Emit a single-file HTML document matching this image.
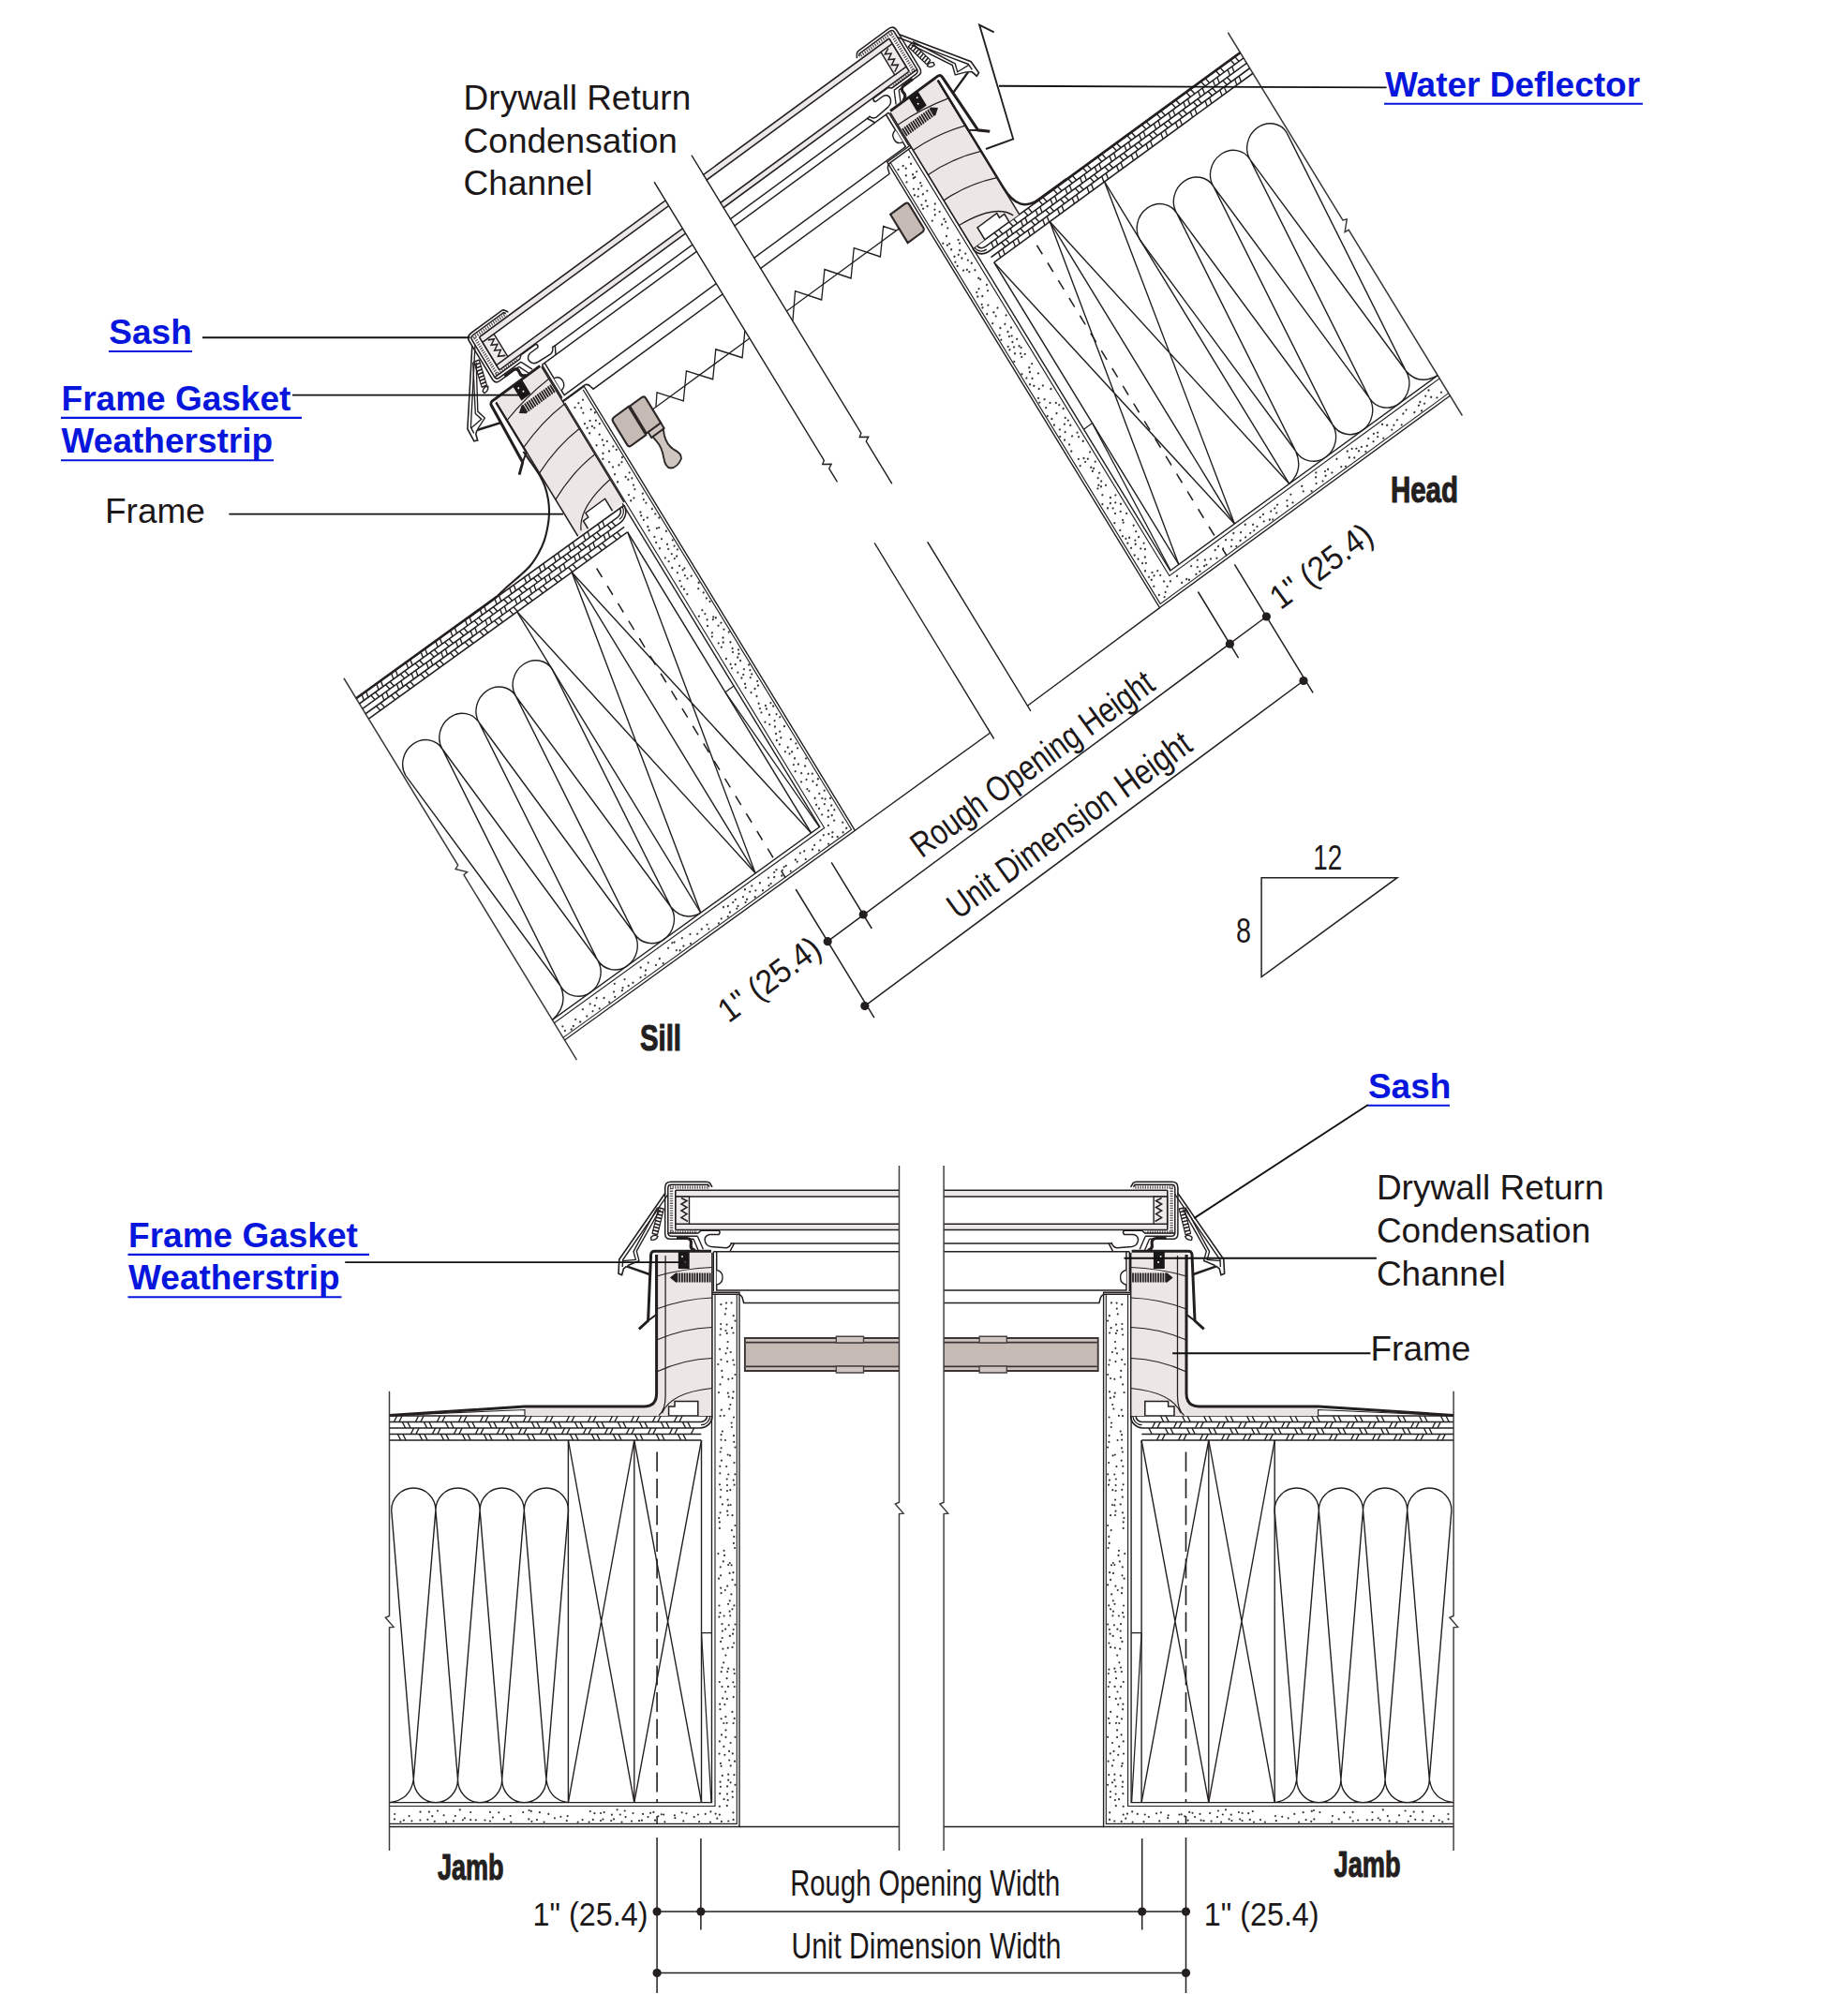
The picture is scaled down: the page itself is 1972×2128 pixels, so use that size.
<!DOCTYPE html><html><head><meta charset="utf-8"><title>Skylight installation details</title>
<style>html,body{margin:0;padding:0;background:#fff}svg{display:block}text{font-family:"Liberation Sans",sans-serif}</style></head><body>
<svg width="1972" height="2128" viewBox="0 0 1972 2128">
<rect width="1972" height="2128" fill="#fff"/>
<g transform="matrix(0.8296,-0.599,0.507,0.831,-730.59,-261.18)">
<path d="M415.5 1484.8V1725l-4.2 1.8l8.8 10.1l-4.6 0.5V1975" fill="none" stroke="#3d393a" stroke-width="1.50" />
<path d="M415.5 1511H759.9" fill="none" stroke="#231f20" stroke-width="1.62" />
<path d="M415.5 1510.6H596" fill="none" stroke="#231f20" stroke-width="2.60" />
<path d="M415.5 1517.5H748A6.5 6.5 0 0 0 754.5 1511" fill="none" stroke="#231f20" stroke-width="1.62" />
<path d="M415.5 1524H747A13 13 0 0 0 760 1511" fill="none" stroke="#231f20" stroke-width="1.62" />
<path d="M748 1520.7A9.7 9.7 0 0 0 757.7 1511" fill="none" stroke="#231f20" stroke-width="1.25" />
<path d="M415.5 1530.5H748.3" fill="none" stroke="#231f20" stroke-width="1.62" />
<path d="M415.5 1537H748.3" fill="none" stroke="#231f20" stroke-width="1.62" />
<path d="M421.4 1517.5L422.6 1511M426.9 1517.5L428.1 1511M440.4 1517.5L441.6 1511M445.9 1517.5L447.1 1511M459.4 1517.5L460.6 1511M464.9 1517.5L466.1 1511M478.4 1517.5L479.6 1511M483.9 1517.5L485.1 1511M497.4 1517.5L498.6 1511M502.9 1517.5L504.1 1511M516.4 1517.5L517.6 1511M521.9 1517.5L523.1 1511M535.4 1517.5L536.6 1511M540.9 1517.5L542.1 1511M554.4 1517.5L555.6 1511M559.9 1517.5L561.1 1511M573.4 1517.5L574.6 1511M578.9 1517.5L580.1 1511M592.4 1517.5L593.6 1511M597.9 1517.5L599.1 1511M611.4 1517.5L612.6 1511M616.9 1517.5L618.1 1511M630.4 1517.5L631.6 1511M635.9 1517.5L637.1 1511M649.4 1517.5L650.6 1511M654.9 1517.5L656.1 1511M668.4 1517.5L669.6 1511M673.9 1517.5L675.1 1511M687.4 1517.5L688.6 1511M692.9 1517.5L694.1 1511M706.4 1517.5L707.6 1511M711.9 1517.5L713.1 1511M725.4 1517.5L726.6 1511M730.9 1517.5L732.1 1511M431.6 1524L430.4 1517.5M437.1 1524L435.9 1517.5M450.6 1524L449.4 1517.5M456.1 1524L454.9 1517.5M469.6 1524L468.4 1517.5M475.1 1524L473.9 1517.5M488.6 1524L487.4 1517.5M494.1 1524L492.9 1517.5M507.6 1524L506.4 1517.5M513.1 1524L511.9 1517.5M526.6 1524L525.4 1517.5M532.1 1524L530.9 1517.5M545.6 1524L544.4 1517.5M551.1 1524L549.9 1517.5M564.6 1524L563.4 1517.5M570.1 1524L568.9 1517.5M583.6 1524L582.4 1517.5M589.1 1524L587.9 1517.5M602.6 1524L601.4 1517.5M608.1 1524L606.9 1517.5M621.6 1524L620.4 1517.5M627.1 1524L625.9 1517.5M640.6 1524L639.4 1517.5M646.1 1524L644.9 1517.5M659.6 1524L658.4 1517.5M665.1 1524L663.9 1517.5M678.6 1524L677.4 1517.5M684.1 1524L682.9 1517.5M697.6 1524L696.4 1517.5M703.1 1524L701.9 1517.5M716.6 1524L715.4 1517.5M722.1 1524L720.9 1517.5M735.6 1524L734.4 1517.5M741.1 1524L739.9 1517.5M439.4 1530.5L440.6 1524M444.9 1530.5L446.1 1524M458.4 1530.5L459.6 1524M463.9 1530.5L465.1 1524M477.4 1530.5L478.6 1524M482.9 1530.5L484.1 1524M496.4 1530.5L497.6 1524M501.9 1530.5L503.1 1524M515.4 1530.5L516.6 1524M520.9 1530.5L522.1 1524M534.4 1530.5L535.6 1524M539.9 1530.5L541.1 1524M553.4 1530.5L554.6 1524M558.9 1530.5L560.1 1524M572.4 1530.5L573.6 1524M577.9 1530.5L579.1 1524M591.4 1530.5L592.6 1524M596.9 1530.5L598.1 1524M610.4 1530.5L611.6 1524M615.9 1530.5L617.1 1524M629.4 1530.5L630.6 1524M634.9 1530.5L636.1 1524M648.4 1530.5L649.6 1524M653.9 1530.5L655.1 1524M667.4 1530.5L668.6 1524M672.9 1530.5L674.1 1524M686.4 1530.5L687.6 1524M691.9 1530.5L693.1 1524M705.4 1530.5L706.6 1524M710.9 1530.5L712.1 1524M724.4 1530.5L725.6 1524M729.9 1530.5L731.1 1524M430.6 1537L429.4 1530.5M436.1 1537L434.9 1530.5M449.6 1537L448.4 1530.5M455.1 1537L453.9 1530.5M468.6 1537L467.4 1530.5M474.1 1537L472.9 1530.5M487.6 1537L486.4 1530.5M493.1 1537L491.9 1530.5M506.6 1537L505.4 1530.5M512.1 1537L510.9 1530.5M525.6 1537L524.4 1530.5M531.1 1537L529.9 1530.5M544.6 1537L543.4 1530.5M550.1 1537L548.9 1530.5M563.6 1537L562.4 1530.5M569.1 1537L567.9 1530.5M582.6 1537L581.4 1530.5M588.1 1537L586.9 1530.5M601.6 1537L600.4 1530.5M607.1 1537L605.9 1530.5M620.6 1537L619.4 1530.5M626.1 1537L624.9 1530.5M639.6 1537L638.4 1530.5M645.1 1537L643.9 1530.5M658.6 1537L657.4 1530.5M664.1 1537L662.9 1530.5M677.6 1537L676.4 1530.5M683.1 1537L681.9 1530.5M696.6 1537L695.4 1530.5M702.1 1537L700.9 1530.5M715.6 1537L714.4 1530.5M721.1 1537L719.9 1530.5M734.6 1537L733.4 1530.5M740.1 1537L738.9 1530.5" fill="none" stroke="#231f20" stroke-width="1.38" />
<path d="M606.4 1537V1923.6M676.8 1537V1923.6M748.5 1537V1923.6" fill="none" stroke="#231f20" stroke-width="1.38" />
<path d="M606.4 1537L676.8 1923.6M676.8 1537L606.4 1923.6M676.8 1537L748.5 1923.6M748.5 1537L676.8 1923.6" fill="none" stroke="#231f20" stroke-width="1.38" />
<path d="M748.5 1742.7H759.5M748.5 1742.7L759 1923.6" fill="none" stroke="#231f20" stroke-width="1.25" />
<path d="M701.1 1549.5V1923.6" fill="none" stroke="#231f20" stroke-width="1.50" stroke-dasharray="11.5 11"/>
<path d="M701.1 1938V1947" fill="none" stroke="#231f20" stroke-width="1.50" />
<path d="M417.7 1611.6A23.6 23.6 0 0 1 464.9 1611.6M464.9 1611.6A23.6 23.6 0 0 1 512.1 1611.6M512.1 1611.6A23.6 23.6 0 0 1 559.3 1611.6M559.3 1611.6A23.6 23.6 0 0 1 606.5 1611.6M441.3 1899A23.6 24.6 0 0 0 488.5 1899M488.5 1899A23.6 24.6 0 0 0 535.7 1899M535.7 1899A23.6 24.6 0 0 0 582.9 1899M415.5 1923.6Q438 1921 441.3 1899M582.9 1899Q586 1921 606.4 1923.6M417.7 1611.6L441.3 1899M464.9 1611.6L441.3 1899M464.9 1611.6L488.5 1899M512.1 1611.6L488.5 1899M512.1 1611.6L535.7 1899M559.3 1611.6L535.7 1899M559.3 1611.6L582.9 1899M606.5 1611.6L582.9 1899" fill="none" stroke="#231f20" stroke-width="1.40" />
<path d="M415.5 1923.6H759.5V1379.3H789V1949.5H415.5" fill="none" stroke="#231f20" stroke-width="1.38" />
<path d="M415.5 1927.5H763V1381.5M786.3 1381.5V1946.4H415.5" fill="none" stroke="#231f20" stroke-width="1.12" />
<path d="M421.2 1936h0M421 1941.4h0M427.4 1944.3h0M430.9 1942.6h0M436.6 1938.1h0M439.4 1943.3h0M448.5 1933.7h0M448.4 1942.5h0M457.9 1933.7h0M456.4 1941.8h0M461.3 1938.2h0M463.8 1943.8h0M467 1932.5h0M473.6 1937.3h0M476.1 1944.5h0M485.8 1938.1h0M484 1943.4h0M490.8 1931.4h0M493.9 1942.3h0M495.9 1940.3h0M502.2 1934h0M502.2 1942.2h0M507.8 1942.3h0M517.5 1942.5h0M523 1933.8h0M522.9 1943.5h0M525.9 1939.5h0M532.3 1934.3h0M537.9 1941.4h0M544.7 1938h0M545.3 1944.5h0M558.2 1934.1h0M564.6 1932h0M564.3 1941.4h0M566.8 1932.9h0M567.4 1943.8h0M575.9 1934.2h0M573 1942.1h0M580.6 1944.5h0M585.3 1935.9h0M591.9 1940.3h0M598.4 1938.8h0M605.7 1938.1h0M604.8 1943.2h0M616.7 1944.5h0M621.6 1942.1h0M629.8 1933.1h0M628.6 1944.5h0M634.4 1935.2h0M632.8 1941.9h0M641 1935h0M641 1943.1h0M644.7 1934.1h0M643.4 1941.6h0M652.9 1936.7h0M652.2 1943.1h0M658.6 1931.3h0M655 1941.4h0M661.8 1936.5h0M663.5 1944.5h0M666.7 1932.5h0M667.6 1939.1h0M675.5 1935.1h0M674 1943.6h0M682.1 1943.2h0M686.1 1935.9h0M685 1942.7h0M694.1 1934.8h0M691.5 1939.1h0M697.4 1933.9h0M699 1942.7h0M705.8 1936.3h0M702.4 1938.3h0M708.2 1936.6h0M709.4 1944.3h0M719.9 1937.3h0M720.4 1940.2h0M727.7 1934.3h0M729.3 1943.4h0M732.5 1935.3h0M740.7 1939.1h0M744.9 1936.5h0M746.1 1944.1h0M752.8 1935.9h0M758.4 1933.4h0M758 1944.5h0M763.6 1935.7h0M765.3 1940.7h0M767.9 1936.7h0M769.9 1943.9h0M777.3 1943.5h0M782.4 1934.4h0M782.6 1941.9h0" stroke="#3a3637" stroke-width="2.2" stroke-linecap="round" fill="none"/>
<path d="M769.4 1392.2h0M769.2 1413h0M769.2 1418.4h0M768.5 1424.5h0M768.1 1439.8h0M769.5 1451.1h0M766.3 1456h0M770.3 1462.9h0M770.8 1469.7h0M768.5 1477.4h0M767 1486h0M769.8 1504.7h0M768.6 1511.2h0M770.9 1527.6h0M769.6 1531.2h0M769.5 1536.6h0M769.6 1545.3h0M768.7 1549.5h0M769.9 1558.7h0M768.3 1564.8h0M768.3 1572.3h0M768 1584.3h0M769.3 1589.8h0M768.8 1597.7h0M770.9 1605.4h0M768.6 1614.3h0M767.2 1620.1h0M767.9 1624.4h0M767.9 1630.9h0M772.6 1654.8h0M766.4 1658.1h0M771.8 1666.4h0M768.8 1672.3h0M769.1 1681.3h0M767 1684.7h0M769.2 1694.7h0M769.6 1700.2h0M767.5 1713.5h0M768.5 1721.2h0M767.4 1725.6h0M770.5 1733.2h0M770.9 1740.6h0M770.7 1748h0M769.1 1751.9h0M771.4 1759.7h0M772.2 1774.3h0M770.6 1779.6h0M769.7 1784.1h0M767.8 1795h0M770.5 1800.1h0M771.2 1812.4h0M768.2 1818.7h0M768.5 1824.2h0M769.6 1834.3h0M772.3 1839h0M770 1851.4h0M767.9 1858.4h0M772.4 1863.9h0M767.6 1871.6h0M768.9 1881.9h0M769.6 1884.8h0M770.8 1894.9h0M768.5 1901.7h0M768.9 1906.8h0M768.2 1914.2h0M772.5 1920.2h0M767.9 1927.8h0M775 1390.6h0M774.8 1396.6h0M773.8 1402.4h0M775.6 1413.6h0M774.5 1420h0M775.7 1422.9h0M776.6 1432h0M776.2 1438.8h0M774.6 1444.3h0M776.1 1453.1h0M777.3 1471.8h0M776.8 1486.7h0M777.7 1490.7h0M778.2 1503.6h0M772.7 1510.8h0M774 1537h0M776.7 1552.5h0M775.2 1565.1h0M777.3 1573.5h0M775.7 1578.5h0M776 1585h0M776 1591h0M776.5 1600.6h0M777.2 1606.4h0M776.1 1612.7h0M776.6 1617h0M773.1 1659.9h0M778.8 1668h0M777.2 1670h0M778.6 1678.9h0M776.2 1692.7h0M773.8 1697h0M778.8 1708.3h0M777.1 1711.8h0M778.6 1719.7h0M772.7 1724.5h0M777.7 1734.3h0M774.2 1738.7h0M778.9 1745.9h0M776.8 1758.7h0M774.4 1766.6h0M777.2 1780.7h0M776.2 1784.1h0M775.6 1791.2h0M777 1799.9h0M774.1 1805.5h0M775.8 1812.9h0M773.4 1819.1h0M774.4 1832.2h0M775.6 1838.8h0M774.5 1846.4h0M774.5 1853.9h0M778.1 1868.9h0M773.4 1872.8h0M778.2 1878.5h0M777.2 1893.7h0M777.2 1899.7h0M776.1 1906.4h0M776 1914.6h0M776.7 1921.1h0M775.8 1927.2h0M780.6 1390.4h0M782.7 1404.2h0M784.5 1409.6h0M781 1417.2h0M782.5 1422.5h0M779.7 1443h0M782.3 1451.5h0M783.4 1456.5h0M784.5 1467h0M781.5 1471h0M782.6 1485.3h0M781.8 1491.9h0M779.4 1499h0M783 1512.5h0M780.6 1518.5h0M780.9 1523h0M783 1532.2h0M783.2 1538.8h0M784.5 1544.6h0M779 1553.4h0M783.5 1561.1h0M784.4 1573.3h0M782.7 1579.6h0M783.6 1584.7h0M779.3 1590.2h0M779.6 1606h0M781.5 1617.2h0M784.5 1628h0M780.9 1633.1h0M783.3 1639.9h0M782.9 1646.9h0M784.1 1652h0M780.6 1670.3h0M782.5 1678.2h0M781.5 1685.9h0M784.5 1691.4h0M780.4 1701.4h0M783.4 1713.4h0M781.5 1717.3h0M779.2 1724.3h0M784.5 1733.5h0M782.7 1739h0M782 1743.7h0M783.2 1753.5h0M781.5 1757.9h0M783.2 1781.6h0M783.8 1786h0M782.3 1795.3h0M783.8 1800h0M782.7 1811.1h0M781.4 1826.9h0M783.7 1833.9h0M782.6 1839.1h0M784.5 1853.8h0M779.6 1860h0M781.8 1871.4h0M784 1879.7h0M779.7 1884.4h0M783.4 1894.2h0M779.6 1902.3h0M784.5 1904.8h0M781.6 1912h0M781.8 1917.8h0" stroke="#3a3637" stroke-width="2.2" stroke-linecap="round" fill="none"/>
</g>
<g transform="matrix(-0.8296,0.606,0.51,0.834,897.81,-1455.44)">
<path d="M415.5 1484.8V1725l-4.2 1.8l8.8 10.1l-4.6 0.5V1975" fill="none" stroke="#3d393a" stroke-width="1.50" />
<path d="M415.5 1511H759.9" fill="none" stroke="#231f20" stroke-width="1.62" />
<path d="M415.5 1510.4H680" fill="none" stroke="#231f20" stroke-width="2.60" />
<path d="M415.5 1517.5H748A6.5 6.5 0 0 0 754.5 1511" fill="none" stroke="#231f20" stroke-width="1.62" />
<path d="M415.5 1524H747A13 13 0 0 0 760 1511" fill="none" stroke="#231f20" stroke-width="1.62" />
<path d="M748 1520.7A9.7 9.7 0 0 0 757.7 1511" fill="none" stroke="#231f20" stroke-width="1.25" />
<path d="M415.5 1530.5H748.3" fill="none" stroke="#231f20" stroke-width="1.62" />
<path d="M415.5 1537H748.3" fill="none" stroke="#231f20" stroke-width="1.62" />
<path d="M421.4 1517.5L422.6 1511M426.9 1517.5L428.1 1511M440.4 1517.5L441.6 1511M445.9 1517.5L447.1 1511M459.4 1517.5L460.6 1511M464.9 1517.5L466.1 1511M478.4 1517.5L479.6 1511M483.9 1517.5L485.1 1511M497.4 1517.5L498.6 1511M502.9 1517.5L504.1 1511M516.4 1517.5L517.6 1511M521.9 1517.5L523.1 1511M535.4 1517.5L536.6 1511M540.9 1517.5L542.1 1511M554.4 1517.5L555.6 1511M559.9 1517.5L561.1 1511M573.4 1517.5L574.6 1511M578.9 1517.5L580.1 1511M592.4 1517.5L593.6 1511M597.9 1517.5L599.1 1511M611.4 1517.5L612.6 1511M616.9 1517.5L618.1 1511M630.4 1517.5L631.6 1511M635.9 1517.5L637.1 1511M649.4 1517.5L650.6 1511M654.9 1517.5L656.1 1511M668.4 1517.5L669.6 1511M673.9 1517.5L675.1 1511M687.4 1517.5L688.6 1511M692.9 1517.5L694.1 1511M706.4 1517.5L707.6 1511M711.9 1517.5L713.1 1511M725.4 1517.5L726.6 1511M730.9 1517.5L732.1 1511M431.6 1524L430.4 1517.5M437.1 1524L435.9 1517.5M450.6 1524L449.4 1517.5M456.1 1524L454.9 1517.5M469.6 1524L468.4 1517.5M475.1 1524L473.9 1517.5M488.6 1524L487.4 1517.5M494.1 1524L492.9 1517.5M507.6 1524L506.4 1517.5M513.1 1524L511.9 1517.5M526.6 1524L525.4 1517.5M532.1 1524L530.9 1517.5M545.6 1524L544.4 1517.5M551.1 1524L549.9 1517.5M564.6 1524L563.4 1517.5M570.1 1524L568.9 1517.5M583.6 1524L582.4 1517.5M589.1 1524L587.9 1517.5M602.6 1524L601.4 1517.5M608.1 1524L606.9 1517.5M621.6 1524L620.4 1517.5M627.1 1524L625.9 1517.5M640.6 1524L639.4 1517.5M646.1 1524L644.9 1517.5M659.6 1524L658.4 1517.5M665.1 1524L663.9 1517.5M678.6 1524L677.4 1517.5M684.1 1524L682.9 1517.5M697.6 1524L696.4 1517.5M703.1 1524L701.9 1517.5M716.6 1524L715.4 1517.5M722.1 1524L720.9 1517.5M735.6 1524L734.4 1517.5M741.1 1524L739.9 1517.5M439.4 1530.5L440.6 1524M444.9 1530.5L446.1 1524M458.4 1530.5L459.6 1524M463.9 1530.5L465.1 1524M477.4 1530.5L478.6 1524M482.9 1530.5L484.1 1524M496.4 1530.5L497.6 1524M501.9 1530.5L503.1 1524M515.4 1530.5L516.6 1524M520.9 1530.5L522.1 1524M534.4 1530.5L535.6 1524M539.9 1530.5L541.1 1524M553.4 1530.5L554.6 1524M558.9 1530.5L560.1 1524M572.4 1530.5L573.6 1524M577.9 1530.5L579.1 1524M591.4 1530.5L592.6 1524M596.9 1530.5L598.1 1524M610.4 1530.5L611.6 1524M615.9 1530.5L617.1 1524M629.4 1530.5L630.6 1524M634.9 1530.5L636.1 1524M648.4 1530.5L649.6 1524M653.9 1530.5L655.1 1524M667.4 1530.5L668.6 1524M672.9 1530.5L674.1 1524M686.4 1530.5L687.6 1524M691.9 1530.5L693.1 1524M705.4 1530.5L706.6 1524M710.9 1530.5L712.1 1524M724.4 1530.5L725.6 1524M729.9 1530.5L731.1 1524M430.6 1537L429.4 1530.5M436.1 1537L434.9 1530.5M449.6 1537L448.4 1530.5M455.1 1537L453.9 1530.5M468.6 1537L467.4 1530.5M474.1 1537L472.9 1530.5M487.6 1537L486.4 1530.5M493.1 1537L491.9 1530.5M506.6 1537L505.4 1530.5M512.1 1537L510.9 1530.5M525.6 1537L524.4 1530.5M531.1 1537L529.9 1530.5M544.6 1537L543.4 1530.5M550.1 1537L548.9 1530.5M563.6 1537L562.4 1530.5M569.1 1537L567.9 1530.5M582.6 1537L581.4 1530.5M588.1 1537L586.9 1530.5M601.6 1537L600.4 1530.5M607.1 1537L605.9 1530.5M620.6 1537L619.4 1530.5M626.1 1537L624.9 1530.5M639.6 1537L638.4 1530.5M645.1 1537L643.9 1530.5M658.6 1537L657.4 1530.5M664.1 1537L662.9 1530.5M677.6 1537L676.4 1530.5M683.1 1537L681.9 1530.5M696.6 1537L695.4 1530.5M702.1 1537L700.9 1530.5M715.6 1537L714.4 1530.5M721.1 1537L719.9 1530.5M734.6 1537L733.4 1530.5M740.1 1537L738.9 1530.5" fill="none" stroke="#231f20" stroke-width="1.38" />
<path d="M606.4 1537V1923.6M676.8 1537V1923.6M748.5 1537V1923.6" fill="none" stroke="#231f20" stroke-width="1.38" />
<path d="M606.4 1537L676.8 1923.6M676.8 1537L606.4 1923.6M676.8 1537L748.5 1923.6M748.5 1537L676.8 1923.6" fill="none" stroke="#231f20" stroke-width="1.38" />
<path d="M748.5 1742.7H759.5M748.5 1742.7L759 1923.6" fill="none" stroke="#231f20" stroke-width="1.25" />
<path d="M701.1 1549.5V1923.6" fill="none" stroke="#231f20" stroke-width="1.50" stroke-dasharray="11.5 11"/>
<path d="M701.1 1938V1947" fill="none" stroke="#231f20" stroke-width="1.50" />
<path d="M417.7 1611.6A23.6 23.6 0 0 1 464.9 1611.6M464.9 1611.6A23.6 23.6 0 0 1 512.1 1611.6M512.1 1611.6A23.6 23.6 0 0 1 559.3 1611.6M559.3 1611.6A23.6 23.6 0 0 1 606.5 1611.6M441.3 1899A23.6 24.6 0 0 0 488.5 1899M488.5 1899A23.6 24.6 0 0 0 535.7 1899M535.7 1899A23.6 24.6 0 0 0 582.9 1899M415.5 1923.6Q438 1921 441.3 1899M582.9 1899Q586 1921 606.4 1923.6M417.7 1611.6L441.3 1899M464.9 1611.6L441.3 1899M464.9 1611.6L488.5 1899M512.1 1611.6L488.5 1899M512.1 1611.6L535.7 1899M559.3 1611.6L535.7 1899M559.3 1611.6L582.9 1899M606.5 1611.6L582.9 1899" fill="none" stroke="#231f20" stroke-width="1.40" />
<path d="M415.5 1923.6H759.5V1379.3H789V1949.5H415.5" fill="none" stroke="#231f20" stroke-width="1.38" />
<path d="M415.5 1927.5H763V1381.5M786.3 1381.5V1946.4H415.5" fill="none" stroke="#231f20" stroke-width="1.12" />
<path d="M421.6 1940.8h0M428.2 1942.8h0M431.6 1930.9h0M433.1 1938.5h0M437.5 1934h0M445.6 1935.7h0M442.5 1939.9h0M448.7 1937.9h0M448.9 1944.4h0M456.2 1941.2h0M462.2 1933.7h0M467 1935.2h0M475.8 1936.8h0M474.4 1944h0M481.5 1939.2h0M487.6 1934.9h0M485.7 1942.1h0M491.3 1931h0M499.9 1935.4h0M497.9 1944.1h0M504.1 1933.9h0M502.2 1939.1h0M511.4 1934.6h0M508.6 1940.5h0M516.6 1940.2h0M522.1 1937.6h0M520.9 1944.5h0M527.6 1935.7h0M526.7 1939.5h0M531.6 1933.1h0M534.3 1942.6h0M537 1932.3h0M538.7 1939.1h0M546.7 1944.5h0M550.7 1932.3h0M550.9 1942.1h0M564 1935.7h0M562.3 1941.3h0M567.7 1935.6h0M569.7 1940h0M576.5 1931h0M575.1 1942.8h0M579.2 1934.9h0M582.2 1940.7h0M590.5 1944.5h0M596.4 1933.8h0M598 1939.3h0M610.8 1933.9h0M617.4 1936.9h0M613.5 1942.5h0M620.2 1942h0M628.4 1934.4h0M632.6 1935.8h0M633.5 1941.1h0M637.6 1936h0M640.4 1944.5h0M646.2 1933.8h0M643.3 1942.6h0M650.5 1934.4h0M649.4 1940.4h0M658.2 1940.6h0M660.8 1936.2h0M663.1 1942.1h0M667.7 1931.1h0M667.8 1942h0M675.8 1935.2h0M674.3 1942.6h0M682.8 1931.3h0M680.7 1942.1h0M687.9 1936.1h0M687.4 1944.5h0M693.3 1932.2h0M692 1941.5h0M700.5 1938.1h0M703.5 1933h0M708.3 1934.3h0M711.3 1942.5h0M717 1939.3h0M722.7 1936.4h0M724 1941.7h0M729.5 1931.7h0M726.6 1941.4h0M733.3 1937.9h0M733.5 1943.3h0M738.3 1933h0M738.3 1943.4h0M747.6 1943.8h0M749.5 1941.5h0M756.3 1932.7h0M755.6 1941.6h0M765.1 1932.9h0M770.7 1935.6h0M775.4 1939.4h0M782.6 1937.8h0M778.9 1943.1h0" stroke="#3a3637" stroke-width="2.2" stroke-linecap="round" fill="none"/>
<path d="M766.9 1388.9h0M768.7 1396.1h0M767.9 1406.7h0M772.5 1410.5h0M770.7 1419.1h0M771.3 1422.5h0M769.1 1430.5h0M769.1 1447.1h0M772.5 1451.9h0M769.2 1457h0M769.3 1466.4h0M769.4 1469.8h0M771.1 1476.7h0M768 1493.9h0M768.7 1497.9h0M772.3 1504.1h0M769.1 1510.8h0M770.5 1518.1h0M768.8 1523.1h0M769.6 1531.5h0M770.7 1540.9h0M769.8 1543.2h0M767.1 1552.2h0M769.4 1557.9h0M770.1 1579.5h0M766.5 1591.6h0M772.3 1598.6h0M768.7 1605.6h0M772.6 1613.4h0M769.8 1619.6h0M771.6 1627.2h0M770.8 1629.8h0M770.9 1638.1h0M769.9 1651.1h0M769.5 1663.7h0M772 1677.5h0M766.7 1685.6h0M769.8 1701.3h0M768 1705.2h0M766.4 1711h0M769.7 1720.5h0M768.5 1724.6h0M769.1 1730.4h0M767 1741.3h0M768.1 1746h0M766.5 1752.6h0M766.3 1766.7h0M771.9 1771.4h0M766.9 1778.6h0M771.8 1783.6h0M769.3 1791.2h0M772.1 1799.8h0M770.3 1806.3h0M767 1821.3h0M771.2 1827.9h0M767.2 1832.5h0M771.5 1839.1h0M767.2 1844.6h0M767.4 1859.8h0M768.6 1866.7h0M769.1 1873.3h0M767.9 1882.1h0M770.1 1888.2h0M770.8 1915.4h0M770.8 1921.2h0M770.9 1928.9h0M776.9 1392.9h0M775.7 1396.9h0M772.9 1406.9h0M774.3 1410.5h0M775.8 1423.2h0M774.6 1430.8h0M775.7 1438.4h0M777.2 1444.2h0M775.1 1456.8h0M774.1 1469.8h0M776.5 1483.1h0M778 1491.7h0M776 1507.2h0M774.8 1512.5h0M776.5 1526h0M775.6 1529.4h0M776.3 1550.5h0M777.2 1559.3h0M777 1571h0M775.9 1580.9h0M776.1 1585.7h0M778.6 1599.1h0M773.9 1607.3h0M775.3 1612.3h0M775.4 1619.4h0M776.8 1624.8h0M774.4 1634.7h0M775.3 1638.5h0M774.4 1652.8h0M776.3 1657.1h0M777.6 1664.3h0M777.3 1677.9h0M778.1 1690.7h0M775 1697.4h0M774.9 1710.9h0M773.8 1725.6h0M777.5 1733h0M773.5 1741.1h0M775.2 1768.2h0M775.8 1772.4h0M773.7 1781h0M774.4 1785.3h0M773.3 1794.9h0M776.6 1801.6h0M775.2 1804.5h0M778.6 1812.7h0M772.9 1820.2h0M776 1825.2h0M776.4 1831.3h0M777.3 1837.3h0M774.1 1848h0M775 1850.6h0M777.8 1867.9h0M774.1 1874h0M775.9 1877.7h0M773.7 1884.9h0M774.5 1895.2h0M776.9 1901.1h0M776.5 1913.4h0M776.5 1917.5h0M783.1 1393h0M779.5 1403.3h0M782.5 1409.6h0M780.1 1420.1h0M782.6 1426.2h0M780.2 1429.6h0M781.6 1439.4h0M782.3 1443.7h0M780.8 1460.3h0M783.5 1487.2h0M780.7 1491.6h0M779.5 1498h0M780.5 1506.2h0M782.7 1511.7h0M783 1516.6h0M780.1 1524.3h0M780.1 1552.2h0M781.6 1556.7h0M782.2 1566.3h0M783.3 1569.6h0M782.8 1578.1h0M782.9 1590h0M783.1 1604.9h0M784.2 1610.1h0M781.8 1620.6h0M782.1 1624.4h0M779.5 1631.1h0M784.5 1637.8h0M784.5 1653.8h0M782.5 1660.3h0M782.9 1668.2h0M780.1 1672h0M782.9 1685.7h0M784.3 1690.4h0M781.3 1699.1h0M784.5 1707.4h0M782.2 1712.7h0M783.4 1719.7h0M780.9 1727.3h0M784.5 1733.8h0M782.3 1739.7h0M780.6 1746.8h0M782.4 1754h0M780.3 1765.5h0M782.5 1772.6h0M779.2 1804.1h0M783.6 1820.9h0M781.1 1827.7h0M783.1 1845.4h0M782.1 1855.4h0M783.1 1862.2h0M781.5 1866.5h0M782.4 1871.7h0M781.9 1878.2h0M782.8 1886.8h0M781.6 1892.5h0M780.2 1898.9h0M781.9 1907.5h0M781.9 1915.4h0M781.1 1919.5h0M782.5 1926.8h0" stroke="#3a3637" stroke-width="2.2" stroke-linecap="round" fill="none"/>
</g>
<path d="M912.4 886.2L1056.7 782M1237.5 648.6L1096.4 753.2" fill="none" stroke="#231f20" stroke-width="1.38" />
<g transform="matrix(0.8325,-0.611,0.507,0.831,-732.63,-255.37)">
<path d="M700.6 1335.5H759.9V1511H744.8V1495.4H720V1501H713.6V1511H700.6Z" fill="#ece7e5" stroke="none" stroke-width="0.00" />
<path d="M759.9 1337V1511M744.8 1511V1495.4H720V1501H713.6V1511" fill="none" stroke="#231f20" stroke-width="1.50" />
<path d="M700.6 1362Q730 1353.5 759.9 1352.5M700.6 1397Q730 1386 759.9 1385M700.6 1430Q730 1417.5 759.9 1416.5M700.6 1464Q730 1450.5 759.9 1449.5M706.5 1508Q716 1486 759.9 1481.5" fill="none" stroke="#231f20" stroke-width="1.25" />
<path d="M700.6 1339V1511" fill="none" stroke="#231f20" stroke-width="1.50" />
<path d="M759 1335.3H699Q694.8 1335 694.6 1339L691.6 1409.5L681.9 1418.3" fill="none" stroke="#231f20" stroke-width="3.00" stroke-linejoin="round"/>
<path d="M700.2 1339V1403L691.6 1409.5" fill="none" stroke="#231f20" stroke-width="2.00" />
<path d="M668.6 1351.3L693.2 1360" fill="none" stroke="#231f20" stroke-width="2.40" />
<path d="M722 1321.5H733Q738.5 1322 737.3 1328Q736.3 1333 742 1334.5" fill="none" stroke="#231f20" stroke-width="3.20" />
<path d="M723.8 1336H735.7V1354H723.8Z" fill="#1a1718" stroke="none" stroke-width="0.00" />
<path d="M728 1341h0M730.5 1347h0" fill="none" stroke="#fff" stroke-width="2.00" stroke-linecap="round"/>
<path d="M722.5 1358.6V1368.4M725.2 1358.6V1368.4M727.9 1358.6V1368.4M730.6 1358.6V1368.4M733.3 1358.6V1368.4M736 1358.6V1368.4M738.7 1358.6V1368.4M741.4 1358.6V1368.4M744.1 1358.6V1368.4M746.8 1358.6V1368.4M749.5 1358.6V1368.4M752.2 1358.6V1368.4M754.9 1358.6V1368.4M757.6 1358.6V1368.4" fill="none" stroke="#231f20" stroke-width="1.75" />
<path d="M722 1359L716.5 1363.5L722 1368" fill="#231f20" stroke="#231f20" stroke-width="2.00" /><path d="M720.8 1270.2H959.5V1277H720.8Z M720.8 1306.2H959.5V1312.5H720.8Z" fill="#ebe8e8" stroke="none" stroke-width="0.00" />
<path d="M720.8 1270.2H959.5M720.8 1277H959.5M720.8 1306.2H959.5M720.8 1312.5H959.5M720.8 1270.2V1312.5" fill="none" stroke="#231f20" stroke-width="1.62" />
<path d="M721 1277H735.5V1306.2H721Z" fill="#efebea" stroke="#231f20" stroke-width="1.38" />
<path d="M727 1278.5l6 3l-6 3.5l6 3.5l-6 3.5l6 3.5l-6 4l7 4" fill="none" stroke="#231f20" stroke-width="1.50" />
<path d="M715 1267H757M716.5 1268V1316M715 1315H744" fill="none" stroke="#5d5859" stroke-width="3.40" stroke-dasharray="1.3 1.3"/>
<path d="M760 1266.8L757.5 1262.6Q756.5 1261.3 754 1261.3H716Q709.7 1261.3 709.7 1267.5V1273.4L660.8 1344L660 1359.2L663.6 1360.6L665.4 1354L668.6 1351.3" fill="none" stroke="#231f20" stroke-width="1.62" />
<path d="M757 1266.5L755.5 1264.3H716.5Q712.8 1264.3 712.8 1268V1316Q713 1319 716 1319.3H744.5" fill="none" stroke="#231f20" stroke-width="1.50" />
<path d="M712.8 1274.6L664.6 1344.6L664.2 1352" fill="none" stroke="#231f20" stroke-width="1.38" />
<path d="M709.7 1273.4V1317Q710 1322.3 715 1322.3H740" fill="none" stroke="#231f20" stroke-width="1.50" />
<path d="M701.6 1288.5L676 1335.6L678.4 1344.4L664.6 1345.6M704.5 1290.5L679.3 1335.2L682 1345.5L670 1350.5" fill="none" stroke="#231f20" stroke-width="1.38" />
<path d="M712.8 1316H745L748 1313.3H767.3Q769 1315.5 767 1317.5H757Q751.5 1319 752.2 1324Q753 1329.5 759 1330.5L774.7 1331.8Q779 1331 780.3 1326.7L783.3 1327.2L779 1335.5" fill="none" stroke="#231f20" stroke-width="1.50" />
<path d="M744.4 1319.5L750.4 1333.3M740 1322.3L745 1334" fill="none" stroke="#231f20" stroke-width="1.38" />
<path d="M702.6 1288.7L708.6 1290.3M701.8 1292.1L707.8 1293.7M700.9 1295.6L706.9 1297.2M700 1299L706 1300.6M699.2 1302.5L705.2 1304M698.4 1305.9L704.4 1307.5M697.5 1309.3L703.5 1310.9M696.6 1312.8L702.6 1314.4M695.8 1316.2L701.8 1317.8" fill="none" stroke="#231f20" stroke-width="1.62" />
<path d="M702.8 1288.8L696 1316.3M708.4 1290.2L701.6 1317.7" fill="none" stroke="#231f20" stroke-width="1.12" />
<path d="M694.6 1320.5Q698 1316.8 702 1319.5Q700 1324 695 1323.3Z" fill="#fff" stroke="#231f20" stroke-width="1.38" />
<path d="M782.5 1327H959.5M761.3 1335.7H959.5" fill="none" stroke="#231f20" stroke-width="1.50" />
<path d="M761.3 1335.7V1378.1M764.7 1335.7V1377H959.5" fill="none" stroke="#231f20" stroke-width="1.50" />
<path d="M759.9 1381.2H787.7Q792 1382 792.6 1386.5L793.7 1390.5H959.5" fill="none" stroke="#231f20" stroke-width="1.50" />
<path d="M764.7 1355.5Q771 1356.5 771 1363.3Q771 1370 764.7 1371" fill="#fff" stroke="#231f20" stroke-width="1.38" />
<g transform="translate(1965.83,1.85) scale(-1,1)">
<path d="M700.6 1335.5H759.9V1511H744.8V1495.4H720V1501H713.6V1511H700.6Z" fill="#ece7e5" stroke="none" stroke-width="0.00" />
<path d="M759.9 1337V1511M744.8 1511V1495.4H720V1501H713.6V1511" fill="none" stroke="#231f20" stroke-width="1.50" />
<path d="M700.6 1362Q730 1353.5 759.9 1352.5M700.6 1397Q730 1386 759.9 1385M700.6 1430Q730 1417.5 759.9 1416.5M700.6 1464Q730 1450.5 759.9 1449.5M706.5 1508Q716 1486 759.9 1481.5" fill="none" stroke="#231f20" stroke-width="1.25" />
<path d="M700.6 1339V1511" fill="none" stroke="#231f20" stroke-width="1.38" />
<path d="M640 1510.3H675Q700.3 1510.6 700.3 1477V1339" fill="none" stroke="#231f20" stroke-width="2.38" />
<path d="M759 1335.3H699Q694.8 1335 694.6 1339L691.6 1409.5L681.9 1418.3" fill="none" stroke="#231f20" stroke-width="3.00" stroke-linejoin="round"/>
<path d="M700.2 1339V1403L691.6 1409.5" fill="none" stroke="#231f20" stroke-width="2.00" />
<path d="M668.6 1351.3L693.2 1360" fill="none" stroke="#231f20" stroke-width="2.40" />
<path d="M722 1321.5H733Q738.5 1322 737.3 1328Q736.3 1333 742 1334.5" fill="none" stroke="#231f20" stroke-width="3.20" />
<path d="M723.8 1336H735.7V1354H723.8Z" fill="#1a1718" stroke="none" stroke-width="0.00" />
<path d="M728 1341h0M730.5 1347h0" fill="none" stroke="#fff" stroke-width="2.00" stroke-linecap="round"/>
<path d="M722.5 1358.6V1368.4M725.2 1358.6V1368.4M727.9 1358.6V1368.4M730.6 1358.6V1368.4M733.3 1358.6V1368.4M736 1358.6V1368.4M738.7 1358.6V1368.4M741.4 1358.6V1368.4M744.1 1358.6V1368.4M746.8 1358.6V1368.4M749.5 1358.6V1368.4M752.2 1358.6V1368.4M754.9 1358.6V1368.4M757.6 1358.6V1368.4" fill="none" stroke="#231f20" stroke-width="1.75" />
<path d="M722 1359L716.5 1363.5L722 1368" fill="#231f20" stroke="#231f20" stroke-width="2.00" /><path d="M720.8 1270.2H959.5V1277H720.8Z M720.8 1306.2H959.5V1312.5H720.8Z" fill="#ebe8e8" stroke="none" stroke-width="0.00" />
<path d="M720.8 1270.2H959.5M720.8 1277H959.5M720.8 1306.2H959.5M720.8 1312.5H959.5M720.8 1270.2V1312.5" fill="none" stroke="#231f20" stroke-width="1.62" />
<path d="M721 1277H735.5V1306.2H721Z" fill="#efebea" stroke="#231f20" stroke-width="1.38" />
<path d="M727 1278.5l6 3l-6 3.5l6 3.5l-6 3.5l6 3.5l-6 4l7 4" fill="none" stroke="#231f20" stroke-width="1.50" />
<path d="M715 1267H757M716.5 1268V1316M715 1315H744" fill="none" stroke="#5d5859" stroke-width="3.40" stroke-dasharray="1.3 1.3"/>
<path d="M760 1266.8L757.5 1262.6Q756.5 1261.3 754 1261.3H716Q709.7 1261.3 709.7 1267.5V1273.4L660.8 1344L660 1359.2L663.6 1360.6L665.4 1354L668.6 1351.3" fill="none" stroke="#231f20" stroke-width="1.62" />
<path d="M757 1266.5L755.5 1264.3H716.5Q712.8 1264.3 712.8 1268V1316Q713 1319 716 1319.3H744.5" fill="none" stroke="#231f20" stroke-width="1.50" />
<path d="M712.8 1274.6L664.6 1344.6L664.2 1352" fill="none" stroke="#231f20" stroke-width="1.38" />
<path d="M709.7 1273.4V1317Q710 1322.3 715 1322.3H740" fill="none" stroke="#231f20" stroke-width="1.50" />
<path d="M701.6 1288.5L676 1335.6L678.4 1344.4L664.6 1345.6M704.5 1290.5L679.3 1335.2L682 1345.5L670 1350.5" fill="none" stroke="#231f20" stroke-width="1.38" />
<path d="M712.8 1316H745L748 1313.3H767.3Q769 1315.5 767 1317.5H757Q751.5 1319 752.2 1324Q753 1329.5 759 1330.5L774.7 1331.8Q779 1331 780.3 1326.7L783.3 1327.2L779 1335.5" fill="none" stroke="#231f20" stroke-width="1.50" />
<path d="M744.4 1319.5L750.4 1333.3M740 1322.3L745 1334" fill="none" stroke="#231f20" stroke-width="1.38" />
<path d="M702.6 1288.7L708.6 1290.3M701.8 1292.1L707.8 1293.7M700.9 1295.6L706.9 1297.2M700 1299L706 1300.6M699.2 1302.5L705.2 1304M698.4 1305.9L704.4 1307.5M697.5 1309.3L703.5 1310.9M696.6 1312.8L702.6 1314.4M695.8 1316.2L701.8 1317.8" fill="none" stroke="#231f20" stroke-width="1.62" />
<path d="M702.8 1288.8L696 1316.3M708.4 1290.2L701.6 1317.7" fill="none" stroke="#231f20" stroke-width="1.12" />
<path d="M694.6 1320.5Q698 1316.8 702 1319.5Q700 1324 695 1323.3Z" fill="#fff" stroke="#231f20" stroke-width="1.38" />
<path d="M782.5 1327H959.5M761.3 1335.7H959.5" fill="none" stroke="#231f20" stroke-width="1.50" />
<path d="M761.3 1335.7V1378.1M764.7 1335.7V1377H959.5" fill="none" stroke="#231f20" stroke-width="1.50" />
<path d="M759.9 1381.2H787.7Q792 1382 792.6 1386.5L793.7 1390.5H959.5" fill="none" stroke="#231f20" stroke-width="1.50" />
<path d="M764.7 1355.5Q771 1356.5 771 1363.3Q771 1370 764.7 1371" fill="#fff" stroke="#231f20" stroke-width="1.38" />
</g>
<path d="M959.5 1246.5V1604l-3.5 2.5l8 5.5l-4.5 2.5V1631.8M959.5 1710V1961.6" fill="none" stroke="#231f20" stroke-width="1.38" />
<path d="M1007 1247V1604l-3.5 2.5l8 5.5l-4.5 2.5V1668.9M1007 1743.6V1961" fill="none" stroke="#231f20" stroke-width="1.38" />
<path d="M797 1429H815.5V1465.5H797Q793.5 1465.5 793.5 1462V1432.5Q793.5 1429 797 1429Z" fill="#c6bbb4" stroke="#2e2728" stroke-width="2.12" />
<path d="M816.8 1429.5H832Q835.2 1429.5 835.2 1433V1464.5H816.8Z" fill="#c6bbb4" stroke="#2e2728" stroke-width="2.12" />
<path d="M819 1464.5H835.2V1471.5H819Z" fill="#cfc6c0" stroke="#2e2728" stroke-width="1.88" />
<path d="M820.5 1471.5L821.5 1478Q823 1487 819 1497Q815 1507 819.5 1511Q826 1515 834 1509.5Q837 1505 832.5 1497Q828.5 1488 831.5 1478L834 1471.5Z" fill="#cfc6c0" stroke="#2e2728" stroke-width="1.88" />
<g transform="translate(1966.6,0) scale(-1,1)"><path d="M797 1429H815.5V1465.5H797Q793.5 1465.5 793.5 1462V1432.5Q793.5 1429 797 1429Z" fill="#c6bbb4" stroke="#2e2728" stroke-width="2.12" /></g>
<path d="M835.5 1447.2H959.5M1007 1447.2H1152" fill="none" stroke="#231f20" stroke-width="1.38" />
<path d="M839.4 1447.2L848.2 1435L867.1 1459.7L885.9 1435L904.8 1459.7L923.6 1435L942.5 1459.7L959.5 1437.4" fill="none" stroke="#231f20" stroke-width="1.38" />
<path d="M1007 1460L1025.4 1435L1044 1460L1063.1 1435L1081.7 1460L1100.7 1435L1119.3 1460L1138.4 1435L1147.5 1447.2" fill="none" stroke="#231f20" stroke-width="1.38" />
</g>
<path d="M558.5 482C559 482.8 559.1 482.9 561.8 486.7C564.5 490.5 571.2 499.6 574.5 505C577.8 510.4 579.8 514.4 581.5 519.1C583.2 523.8 584.2 528.5 585 533.2C585.8 537.9 586.1 542.5 586 547.2C585.9 551.9 585.5 556.4 584.6 561.3C583.7 566.2 582.5 571.9 580.8 576.8C579.1 581.7 577 586.3 574.5 590.8C572 595.2 569.3 599.6 566 603.5C562.7 607.4 559 610.6 554.8 614.4C550.6 618.2 545.6 622.2 541 626.3C536.4 630.4 533.8 633.7 527 639.2C520.2 644.7 504.5 655.9 500 659.2" fill="none" stroke="#231f20" stroke-width="2.12" />
<path d="M1060.7 34.4L1045.1 26.6L1081.2 148.3L1052 159" fill="none" stroke="#231f20" stroke-width="1.88" />
<path d="M883.2 1004.7L1351.4 658.0M922.8 1073.6L1391 726.5" fill="none" stroke="#231f20" stroke-width="1.50" />
<circle cx="883.2" cy="1004.7" r="4.6" fill="#231f20"/>
<circle cx="921.2" cy="976.0" r="4.6" fill="#231f20"/>
<circle cx="1312.4" cy="687.2" r="4.6" fill="#231f20"/>
<circle cx="1351.4" cy="658.0" r="4.6" fill="#231f20"/>
<circle cx="922.8" cy="1073.6" r="4.6" fill="#231f20"/>
<circle cx="1391" cy="726.5" r="4.6" fill="#231f20"/>
<path d="M849.2 949L932.9 1086.1M887.2 920.3L930.3 991M1278.4 631.5L1321.5 702.2M1317.4 602.3L1401.1 739.4" fill="none" stroke="#231f20" stroke-width="1.50" />
<path d="M1346.1 1042.6V936.7H1491Z" fill="none" stroke="#231f20" stroke-width="1.50" />
<text x="1401.3" y="927.8" font-size="37" font-weight="normal" fill="#1c1819" text-anchor="start" textLength="31" lengthAdjust="spacingAndGlyphs" >12</text>
<text x="1319.1" y="1005.6" font-size="37" font-weight="normal" fill="#1c1819" text-anchor="start" textLength="16" lengthAdjust="spacingAndGlyphs" >8</text>
<text x="777.5" y="1092.5" font-size="36" font-weight="normal" fill="#1c1819" text-anchor="start" textLength="126" lengthAdjust="spacingAndGlyphs" transform="rotate(-36.5 777.5 1092.5)" >1" (25.4)</text>
<text x="1366.5" y="651.5" font-size="36" font-weight="normal" fill="#1c1819" text-anchor="start" textLength="126" lengthAdjust="spacingAndGlyphs" transform="rotate(-36.5 1366.5 651.5)" >1" (25.4)</text>
<text x="983.5" y="916.6" font-size="38" font-weight="normal" fill="#1c1819" text-anchor="start" textLength="310" lengthAdjust="spacingAndGlyphs" transform="rotate(-35.9 983.5 916.6)" >Rough Opening Height</text>
<text x="1022.5" y="982" font-size="38" font-weight="normal" fill="#1c1819" text-anchor="start" textLength="311" lengthAdjust="spacingAndGlyphs" transform="rotate(-35.9 1022.5 982)" >Unit Dimension Height</text>
<g>
<path d="M415.5 1511H759.9" fill="none" stroke="#231f20" stroke-width="1.62" />
<path d="M415.5 1517.5H748A6.5 6.5 0 0 0 754.5 1511" fill="none" stroke="#231f20" stroke-width="1.62" />
<path d="M415.5 1524H747A13 13 0 0 0 760 1511" fill="none" stroke="#231f20" stroke-width="1.62" />
<path d="M748 1520.7A9.7 9.7 0 0 0 757.7 1511" fill="none" stroke="#231f20" stroke-width="1.25" />
<path d="M415.5 1530.5H748.3" fill="none" stroke="#231f20" stroke-width="1.62" />
<path d="M415.5 1537H748.3" fill="none" stroke="#231f20" stroke-width="1.62" />
<path d="M420.4 1517.5L423.6 1511M425.9 1517.5L429.1 1511M443.4 1517.5L446.6 1511M448.9 1517.5L452.1 1511M466.4 1517.5L469.6 1511M471.9 1517.5L475.1 1511M489.4 1517.5L492.6 1511M494.9 1517.5L498.1 1511M512.4 1517.5L515.6 1511M517.9 1517.5L521.1 1511M535.4 1517.5L538.6 1511M540.9 1517.5L544.1 1511M558.4 1517.5L561.6 1511M563.9 1517.5L567.1 1511M581.4 1517.5L584.6 1511M586.9 1517.5L590.1 1511M604.4 1517.5L607.6 1511M609.9 1517.5L613.1 1511M627.4 1517.5L630.6 1511M632.9 1517.5L636.1 1511M650.4 1517.5L653.6 1511M655.9 1517.5L659.1 1511M673.4 1517.5L676.6 1511M678.9 1517.5L682.1 1511M696.4 1517.5L699.6 1511M701.9 1517.5L705.1 1511M719.4 1517.5L722.6 1511M724.9 1517.5L728.1 1511M432.6 1524L429.4 1517.5M438.1 1524L434.9 1517.5M455.6 1524L452.4 1517.5M461.1 1524L457.9 1517.5M478.6 1524L475.4 1517.5M484.1 1524L480.9 1517.5M501.6 1524L498.4 1517.5M507.1 1524L503.9 1517.5M524.6 1524L521.4 1517.5M530.1 1524L526.9 1517.5M547.6 1524L544.4 1517.5M553.1 1524L549.9 1517.5M570.6 1524L567.4 1517.5M576.1 1524L572.9 1517.5M593.6 1524L590.4 1517.5M599.1 1524L595.9 1517.5M616.6 1524L613.4 1517.5M622.1 1524L618.9 1517.5M639.6 1524L636.4 1517.5M645.1 1524L641.9 1517.5M662.6 1524L659.4 1517.5M668.1 1524L664.9 1517.5M685.6 1524L682.4 1517.5M691.1 1524L687.9 1517.5M708.6 1524L705.4 1517.5M714.1 1524L710.9 1517.5M731.6 1524L728.4 1517.5M737.1 1524L733.9 1517.5M438.4 1530.5L441.6 1524M443.9 1530.5L447.1 1524M461.4 1530.5L464.6 1524M466.9 1530.5L470.1 1524M484.4 1530.5L487.6 1524M489.9 1530.5L493.1 1524M507.4 1530.5L510.6 1524M512.9 1530.5L516.1 1524M530.4 1530.5L533.6 1524M535.9 1530.5L539.1 1524M553.4 1530.5L556.6 1524M558.9 1530.5L562.1 1524M576.4 1530.5L579.6 1524M581.9 1530.5L585.1 1524M599.4 1530.5L602.6 1524M604.9 1530.5L608.1 1524M622.4 1530.5L625.6 1524M627.9 1530.5L631.1 1524M645.4 1530.5L648.6 1524M650.9 1530.5L654.1 1524M668.4 1530.5L671.6 1524M673.9 1530.5L677.1 1524M691.4 1530.5L694.6 1524M696.9 1530.5L700.1 1524M714.4 1530.5L717.6 1524M719.9 1530.5L723.1 1524M737.4 1530.5L740.6 1524M427.6 1537L424.4 1530.5M433.1 1537L429.9 1530.5M450.6 1537L447.4 1530.5M456.1 1537L452.9 1530.5M473.6 1537L470.4 1530.5M479.1 1537L475.9 1530.5M496.6 1537L493.4 1530.5M502.1 1537L498.9 1530.5M519.6 1537L516.4 1530.5M525.1 1537L521.9 1530.5M542.6 1537L539.4 1530.5M548.1 1537L544.9 1530.5M565.6 1537L562.4 1530.5M571.1 1537L567.9 1530.5M588.6 1537L585.4 1530.5M594.1 1537L590.9 1530.5M611.6 1537L608.4 1530.5M617.1 1537L613.9 1530.5M634.6 1537L631.4 1530.5M640.1 1537L636.9 1530.5M657.6 1537L654.4 1530.5M663.1 1537L659.9 1530.5M680.6 1537L677.4 1530.5M686.1 1537L682.9 1530.5M703.6 1537L700.4 1530.5M709.1 1537L705.9 1530.5M726.6 1537L723.4 1530.5M732.1 1537L728.9 1530.5" fill="none" stroke="#231f20" stroke-width="1.38" />
<path d="M606.4 1537V1923.6M676.8 1537V1923.6M748.5 1537V1923.6" fill="none" stroke="#231f20" stroke-width="1.38" />
<path d="M606.4 1537L676.8 1923.6M676.8 1537L606.4 1923.6M676.8 1537L748.5 1923.6M748.5 1537L676.8 1923.6" fill="none" stroke="#231f20" stroke-width="1.38" />
<path d="M748.5 1742.7H759.5M748.5 1742.7L759 1923.6" fill="none" stroke="#231f20" stroke-width="1.25" />
<path d="M701.1 1549.5V1923.6" fill="none" stroke="#231f20" stroke-width="1.62" stroke-dasharray="21 7.5"/>
<path d="M701.1 1938V1947" fill="none" stroke="#231f20" stroke-width="1.50" />
<path d="M417.7 1611.6A23.6 23.6 0 0 1 464.9 1611.6M464.9 1611.6A23.6 23.6 0 0 1 512.1 1611.6M512.1 1611.6A23.6 23.6 0 0 1 559.3 1611.6M559.3 1611.6A23.6 23.6 0 0 1 606.5 1611.6M441.3 1899A23.6 24.6 0 0 0 488.5 1899M488.5 1899A23.6 24.6 0 0 0 535.7 1899M535.7 1899A23.6 24.6 0 0 0 582.9 1899M415.5 1923.6Q438 1921 441.3 1899M582.9 1899Q586 1921 606.4 1923.6M417.7 1611.6L441.3 1899M464.9 1611.6L441.3 1899M464.9 1611.6L488.5 1899M512.1 1611.6L488.5 1899M512.1 1611.6L535.7 1899M559.3 1611.6L535.7 1899M559.3 1611.6L582.9 1899M606.5 1611.6L582.9 1899" fill="none" stroke="#231f20" stroke-width="1.40" />
<path d="M415.5 1923.6H759.5V1379.3H789V1949.5H415.5" fill="none" stroke="#231f20" stroke-width="1.38" />
<path d="M415.5 1927.5H763V1381.5M786.3 1381.5V1946.4H415.5" fill="none" stroke="#231f20" stroke-width="1.12" />
<path d="M421.2 1936h0M421 1941.4h0M427.4 1944.3h0M430.9 1942.6h0M436.6 1938.1h0M439.4 1943.3h0M448.5 1933.7h0M448.4 1942.5h0M457.9 1933.7h0M456.4 1941.8h0M461.3 1938.2h0M463.8 1943.8h0M467 1932.5h0M473.6 1937.3h0M476.1 1944.5h0M485.8 1938.1h0M484 1943.4h0M490.8 1931.4h0M493.9 1942.3h0M495.9 1940.3h0M502.2 1934h0M502.2 1942.2h0M507.8 1942.3h0M517.5 1942.5h0M523 1933.8h0M522.9 1943.5h0M525.9 1939.5h0M532.3 1934.3h0M537.9 1941.4h0M544.7 1938h0M545.3 1944.5h0M558.2 1934.1h0M564.6 1932h0M564.3 1941.4h0M566.8 1932.9h0M567.4 1943.8h0M575.9 1934.2h0M573 1942.1h0M580.6 1944.5h0M585.3 1935.9h0M591.9 1940.3h0M598.4 1938.8h0M605.7 1938.1h0M604.8 1943.2h0M616.7 1944.5h0M621.6 1942.1h0M629.8 1933.1h0M628.6 1944.5h0M634.4 1935.2h0M632.8 1941.9h0M641 1935h0M641 1943.1h0M644.7 1934.1h0M643.4 1941.6h0M652.9 1936.7h0M652.2 1943.1h0M658.6 1931.3h0M655 1941.4h0M661.8 1936.5h0M663.5 1944.5h0M666.7 1932.5h0M667.6 1939.1h0M675.5 1935.1h0M674 1943.6h0M682.1 1943.2h0M686.1 1935.9h0M685 1942.7h0M694.1 1934.8h0M691.5 1939.1h0M697.4 1933.9h0M699 1942.7h0M705.8 1936.3h0M702.4 1938.3h0M708.2 1936.6h0M709.4 1944.3h0M719.9 1937.3h0M720.4 1940.2h0M727.7 1934.3h0M729.3 1943.4h0M732.5 1935.3h0M740.7 1939.1h0M744.9 1936.5h0M746.1 1944.1h0M752.8 1935.9h0M758.4 1933.4h0M758 1944.5h0M763.6 1935.7h0M765.3 1940.7h0M767.9 1936.7h0M769.9 1943.9h0M777.3 1943.5h0M782.4 1934.4h0M782.6 1941.9h0" stroke="#3a3637" stroke-width="2.2" stroke-linecap="round" fill="none"/>
<path d="M769.4 1392.2h0M769.2 1413h0M769.2 1418.4h0M768.5 1424.5h0M768.1 1439.8h0M769.5 1451.1h0M766.3 1456h0M770.3 1462.9h0M770.8 1469.7h0M768.5 1477.4h0M767 1486h0M769.8 1504.7h0M768.6 1511.2h0M770.9 1527.6h0M769.6 1531.2h0M769.5 1536.6h0M769.6 1545.3h0M768.7 1549.5h0M769.9 1558.7h0M768.3 1564.8h0M768.3 1572.3h0M768 1584.3h0M769.3 1589.8h0M768.8 1597.7h0M770.9 1605.4h0M768.6 1614.3h0M767.2 1620.1h0M767.9 1624.4h0M767.9 1630.9h0M772.6 1654.8h0M766.4 1658.1h0M771.8 1666.4h0M768.8 1672.3h0M769.1 1681.3h0M767 1684.7h0M769.2 1694.7h0M769.6 1700.2h0M767.5 1713.5h0M768.5 1721.2h0M767.4 1725.6h0M770.5 1733.2h0M770.9 1740.6h0M770.7 1748h0M769.1 1751.9h0M771.4 1759.7h0M772.2 1774.3h0M770.6 1779.6h0M769.7 1784.1h0M767.8 1795h0M770.5 1800.1h0M771.2 1812.4h0M768.2 1818.7h0M768.5 1824.2h0M769.6 1834.3h0M772.3 1839h0M770 1851.4h0M767.9 1858.4h0M772.4 1863.9h0M767.6 1871.6h0M768.9 1881.9h0M769.6 1884.8h0M770.8 1894.9h0M768.5 1901.7h0M768.9 1906.8h0M768.2 1914.2h0M772.5 1920.2h0M767.9 1927.8h0M775 1390.6h0M774.8 1396.6h0M773.8 1402.4h0M775.6 1413.6h0M774.5 1420h0M775.7 1422.9h0M776.6 1432h0M776.2 1438.8h0M774.6 1444.3h0M776.1 1453.1h0M777.3 1471.8h0M776.8 1486.7h0M777.7 1490.7h0M778.2 1503.6h0M772.7 1510.8h0M774 1537h0M776.7 1552.5h0M775.2 1565.1h0M777.3 1573.5h0M775.7 1578.5h0M776 1585h0M776 1591h0M776.5 1600.6h0M777.2 1606.4h0M776.1 1612.7h0M776.6 1617h0M773.1 1659.9h0M778.8 1668h0M777.2 1670h0M778.6 1678.9h0M776.2 1692.7h0M773.8 1697h0M778.8 1708.3h0M777.1 1711.8h0M778.6 1719.7h0M772.7 1724.5h0M777.7 1734.3h0M774.2 1738.7h0M778.9 1745.9h0M776.8 1758.7h0M774.4 1766.6h0M777.2 1780.7h0M776.2 1784.1h0M775.6 1791.2h0M777 1799.9h0M774.1 1805.5h0M775.8 1812.9h0M773.4 1819.1h0M774.4 1832.2h0M775.6 1838.8h0M774.5 1846.4h0M774.5 1853.9h0M778.1 1868.9h0M773.4 1872.8h0M778.2 1878.5h0M777.2 1893.7h0M777.2 1899.7h0M776.1 1906.4h0M776 1914.6h0M776.7 1921.1h0M775.8 1927.2h0M780.6 1390.4h0M782.7 1404.2h0M784.5 1409.6h0M781 1417.2h0M782.5 1422.5h0M779.7 1443h0M782.3 1451.5h0M783.4 1456.5h0M784.5 1467h0M781.5 1471h0M782.6 1485.3h0M781.8 1491.9h0M779.4 1499h0M783 1512.5h0M780.6 1518.5h0M780.9 1523h0M783 1532.2h0M783.2 1538.8h0M784.5 1544.6h0M779 1553.4h0M783.5 1561.1h0M784.4 1573.3h0M782.7 1579.6h0M783.6 1584.7h0M779.3 1590.2h0M779.6 1606h0M781.5 1617.2h0M784.5 1628h0M780.9 1633.1h0M783.3 1639.9h0M782.9 1646.9h0M784.1 1652h0M780.6 1670.3h0M782.5 1678.2h0M781.5 1685.9h0M784.5 1691.4h0M780.4 1701.4h0M783.4 1713.4h0M781.5 1717.3h0M779.2 1724.3h0M784.5 1733.5h0M782.7 1739h0M782 1743.7h0M783.2 1753.5h0M781.5 1757.9h0M783.2 1781.6h0M783.8 1786h0M782.3 1795.3h0M783.8 1800h0M782.7 1811.1h0M781.4 1826.9h0M783.7 1833.9h0M782.6 1839.1h0M784.5 1853.8h0M779.6 1860h0M781.8 1871.4h0M784 1879.7h0M779.7 1884.4h0M783.4 1894.2h0M779.6 1902.3h0M784.5 1904.8h0M781.6 1912h0M781.8 1917.8h0" stroke="#3a3637" stroke-width="2.2" stroke-linecap="round" fill="none"/>
<path d="M700.6 1335.5H759.9V1511H744.8V1495.4H720V1501H713.6V1511H700.6Z" fill="#ece7e5" stroke="none" stroke-width="0.00" />
<path d="M560 1501H688Q700.6 1501 700.6 1488V1511H560Z" fill="#e9e4e4" stroke="none" stroke-width="0.00" />
<path d="M759.9 1337V1511M744.8 1511V1495.4H720V1501H713.6V1511" fill="none" stroke="#231f20" stroke-width="1.50" />
<path d="M700.6 1362Q730 1353.5 759.9 1352.5M700.6 1397Q730 1386 759.9 1385M700.6 1430Q730 1417.5 759.9 1416.5M700.6 1464Q730 1450.5 759.9 1449.5M706.5 1508Q716 1486 759.9 1481.5" fill="none" stroke="#231f20" stroke-width="1.25" />
<path d="M710.1 1340V1490Q710 1505 703 1510.5" fill="none" stroke="#231f20" stroke-width="1.25" />
<path d="M415.5 1510.5L560 1501H687Q700.6 1501 700.6 1487V1339" fill="none" stroke="#231f20" stroke-width="3.00" />
<path d="M415.5 1510.8L560 1504.5V1511" fill="none" stroke="#231f20" stroke-width="1.12" />
<path d="M759 1335.3H699Q694.8 1335 694.6 1339L691.6 1409.5L681.9 1418.3" fill="none" stroke="#231f20" stroke-width="3.00" stroke-linejoin="round"/>
<path d="M700.2 1339V1403L691.6 1409.5" fill="none" stroke="#231f20" stroke-width="2.00" />
<path d="M668.6 1351.3L693.2 1360" fill="none" stroke="#231f20" stroke-width="2.40" />
<path d="M722 1321.5H733Q738.5 1322 737.3 1328Q736.3 1333 742 1334.5" fill="none" stroke="#231f20" stroke-width="3.20" />
<path d="M723.8 1336H735.7V1354H723.8Z" fill="#1a1718" stroke="none" stroke-width="0.00" />
<path d="M728 1341h0M730.5 1347h0" fill="none" stroke="#fff" stroke-width="2.00" stroke-linecap="round"/>
<path d="M722.5 1358.6V1368.4M725.2 1358.6V1368.4M727.9 1358.6V1368.4M730.6 1358.6V1368.4M733.3 1358.6V1368.4M736 1358.6V1368.4M738.7 1358.6V1368.4M741.4 1358.6V1368.4M744.1 1358.6V1368.4M746.8 1358.6V1368.4M749.5 1358.6V1368.4M752.2 1358.6V1368.4M754.9 1358.6V1368.4M757.6 1358.6V1368.4" fill="none" stroke="#231f20" stroke-width="1.75" />
<path d="M722 1359L716.5 1363.5L722 1368" fill="#231f20" stroke="#231f20" stroke-width="2.00" />
<path d="M720.8 1270.2H959.5V1277H720.8Z M720.8 1306.2H959.5V1312.5H720.8Z" fill="#ebe8e8" stroke="none" stroke-width="0.00" />
<path d="M720.8 1270.2H959.5M720.8 1277H959.5M720.8 1306.2H959.5M720.8 1312.5H959.5M720.8 1270.2V1312.5" fill="none" stroke="#231f20" stroke-width="1.62" />
<path d="M721 1277H735.5V1306.2H721Z" fill="#efebea" stroke="#231f20" stroke-width="1.38" />
<path d="M727 1278.5l6 3l-6 3.5l6 3.5l-6 3.5l6 3.5l-6 4l7 4" fill="none" stroke="#231f20" stroke-width="1.50" />
<path d="M715 1267H757M716.5 1268V1316M715 1315H744" fill="none" stroke="#5d5859" stroke-width="3.40" stroke-dasharray="1.3 1.3"/>
<path d="M760 1266.8L757.5 1262.6Q756.5 1261.3 754 1261.3H716Q709.7 1261.3 709.7 1267.5V1273.4L660.8 1344L660 1359.2L663.6 1360.6L665.4 1354L668.6 1351.3" fill="none" stroke="#231f20" stroke-width="1.62" />
<path d="M757 1266.5L755.5 1264.3H716.5Q712.8 1264.3 712.8 1268V1316Q713 1319 716 1319.3H744.5" fill="none" stroke="#231f20" stroke-width="1.50" />
<path d="M712.8 1274.6L664.6 1344.6L664.2 1352" fill="none" stroke="#231f20" stroke-width="1.38" />
<path d="M709.7 1273.4V1317Q710 1322.3 715 1322.3H740" fill="none" stroke="#231f20" stroke-width="1.50" />
<path d="M701.6 1288.5L676 1335.6L678.4 1344.4L664.6 1345.6M704.5 1290.5L679.3 1335.2L682 1345.5L670 1350.5" fill="none" stroke="#231f20" stroke-width="1.38" />
<path d="M712.8 1316H745L748 1313.3H767.3Q769 1315.5 767 1317.5H757Q751.5 1319 752.2 1324Q753 1329.5 759 1330.5L774.7 1331.8Q779 1331 780.3 1326.7L783.3 1327.2L779 1335.5" fill="none" stroke="#231f20" stroke-width="1.50" />
<path d="M744.4 1319.5L750.4 1333.3M740 1322.3L745 1334" fill="none" stroke="#231f20" stroke-width="1.38" />
<path d="M702.6 1288.7L708.6 1290.3M701.8 1292.1L707.8 1293.7M700.9 1295.6L706.9 1297.2M700 1299L706 1300.6M699.2 1302.5L705.2 1304M698.4 1305.9L704.4 1307.5M697.5 1309.3L703.5 1310.9M696.6 1312.8L702.6 1314.4M695.8 1316.2L701.8 1317.8" fill="none" stroke="#231f20" stroke-width="1.62" />
<path d="M702.8 1288.8L696 1316.3M708.4 1290.2L701.6 1317.7" fill="none" stroke="#231f20" stroke-width="1.12" />
<path d="M694.6 1320.5Q698 1316.8 702 1319.5Q700 1324 695 1323.3Z" fill="#fff" stroke="#231f20" stroke-width="1.38" />
<path d="M782.5 1327H959.5M761.3 1335.7H959.5" fill="none" stroke="#231f20" stroke-width="1.50" />
<path d="M761.3 1335.7V1378.1M764.7 1335.7V1377H959.5" fill="none" stroke="#231f20" stroke-width="1.50" />
<path d="M759.9 1381.2H787.7Q792 1382 792.6 1386.5L793.7 1390.5H959.5" fill="none" stroke="#231f20" stroke-width="1.50" />
<path d="M764.7 1355.5Q771 1356.5 771 1363.3Q771 1370 764.7 1371" fill="#fff" stroke="#231f20" stroke-width="1.38" />
<path d="M794.9 1428H959.5V1463H794.9Z" fill="#cfc5bf" stroke="none" stroke-width="0.00" />
<path d="M796 1433H959.5V1458H796Z" fill="#c6bbb4" stroke="none" stroke-width="0.00" />
<path d="M959.5 1428H794.9V1463H959.5M796 1432.6H959.5M796 1458.4H959.5" fill="none" stroke="#3b3435" stroke-width="1.88" />
<path d="M892.3 1426.3H921.5V1433H892.3ZM892.3 1458H921.5V1465H892.3Z" fill="#cfc6c1" stroke="#4a4344" stroke-width="1.38" />
<path d="M789 1949.5H959.5" fill="none" stroke="#231f20" stroke-width="1.38" />

</g>
<g transform="translate(1966.6,0) scale(-1,1)">
<path d="M415.5 1511H759.9" fill="none" stroke="#231f20" stroke-width="1.62" />
<path d="M415.5 1517.5H748A6.5 6.5 0 0 0 754.5 1511" fill="none" stroke="#231f20" stroke-width="1.62" />
<path d="M415.5 1524H747A13 13 0 0 0 760 1511" fill="none" stroke="#231f20" stroke-width="1.62" />
<path d="M748 1520.7A9.7 9.7 0 0 0 757.7 1511" fill="none" stroke="#231f20" stroke-width="1.25" />
<path d="M415.5 1530.5H748.3" fill="none" stroke="#231f20" stroke-width="1.62" />
<path d="M415.5 1537H748.3" fill="none" stroke="#231f20" stroke-width="1.62" />
<path d="M420.4 1517.5L423.6 1511M425.9 1517.5L429.1 1511M443.4 1517.5L446.6 1511M448.9 1517.5L452.1 1511M466.4 1517.5L469.6 1511M471.9 1517.5L475.1 1511M489.4 1517.5L492.6 1511M494.9 1517.5L498.1 1511M512.4 1517.5L515.6 1511M517.9 1517.5L521.1 1511M535.4 1517.5L538.6 1511M540.9 1517.5L544.1 1511M558.4 1517.5L561.6 1511M563.9 1517.5L567.1 1511M581.4 1517.5L584.6 1511M586.9 1517.5L590.1 1511M604.4 1517.5L607.6 1511M609.9 1517.5L613.1 1511M627.4 1517.5L630.6 1511M632.9 1517.5L636.1 1511M650.4 1517.5L653.6 1511M655.9 1517.5L659.1 1511M673.4 1517.5L676.6 1511M678.9 1517.5L682.1 1511M696.4 1517.5L699.6 1511M701.9 1517.5L705.1 1511M719.4 1517.5L722.6 1511M724.9 1517.5L728.1 1511M432.6 1524L429.4 1517.5M438.1 1524L434.9 1517.5M455.6 1524L452.4 1517.5M461.1 1524L457.9 1517.5M478.6 1524L475.4 1517.5M484.1 1524L480.9 1517.5M501.6 1524L498.4 1517.5M507.1 1524L503.9 1517.5M524.6 1524L521.4 1517.5M530.1 1524L526.9 1517.5M547.6 1524L544.4 1517.5M553.1 1524L549.9 1517.5M570.6 1524L567.4 1517.5M576.1 1524L572.9 1517.5M593.6 1524L590.4 1517.5M599.1 1524L595.9 1517.5M616.6 1524L613.4 1517.5M622.1 1524L618.9 1517.5M639.6 1524L636.4 1517.5M645.1 1524L641.9 1517.5M662.6 1524L659.4 1517.5M668.1 1524L664.9 1517.5M685.6 1524L682.4 1517.5M691.1 1524L687.9 1517.5M708.6 1524L705.4 1517.5M714.1 1524L710.9 1517.5M731.6 1524L728.4 1517.5M737.1 1524L733.9 1517.5M438.4 1530.5L441.6 1524M443.9 1530.5L447.1 1524M461.4 1530.5L464.6 1524M466.9 1530.5L470.1 1524M484.4 1530.5L487.6 1524M489.9 1530.5L493.1 1524M507.4 1530.5L510.6 1524M512.9 1530.5L516.1 1524M530.4 1530.5L533.6 1524M535.9 1530.5L539.1 1524M553.4 1530.5L556.6 1524M558.9 1530.5L562.1 1524M576.4 1530.5L579.6 1524M581.9 1530.5L585.1 1524M599.4 1530.5L602.6 1524M604.9 1530.5L608.1 1524M622.4 1530.5L625.6 1524M627.9 1530.5L631.1 1524M645.4 1530.5L648.6 1524M650.9 1530.5L654.1 1524M668.4 1530.5L671.6 1524M673.9 1530.5L677.1 1524M691.4 1530.5L694.6 1524M696.9 1530.5L700.1 1524M714.4 1530.5L717.6 1524M719.9 1530.5L723.1 1524M737.4 1530.5L740.6 1524M427.6 1537L424.4 1530.5M433.1 1537L429.9 1530.5M450.6 1537L447.4 1530.5M456.1 1537L452.9 1530.5M473.6 1537L470.4 1530.5M479.1 1537L475.9 1530.5M496.6 1537L493.4 1530.5M502.1 1537L498.9 1530.5M519.6 1537L516.4 1530.5M525.1 1537L521.9 1530.5M542.6 1537L539.4 1530.5M548.1 1537L544.9 1530.5M565.6 1537L562.4 1530.5M571.1 1537L567.9 1530.5M588.6 1537L585.4 1530.5M594.1 1537L590.9 1530.5M611.6 1537L608.4 1530.5M617.1 1537L613.9 1530.5M634.6 1537L631.4 1530.5M640.1 1537L636.9 1530.5M657.6 1537L654.4 1530.5M663.1 1537L659.9 1530.5M680.6 1537L677.4 1530.5M686.1 1537L682.9 1530.5M703.6 1537L700.4 1530.5M709.1 1537L705.9 1530.5M726.6 1537L723.4 1530.5M732.1 1537L728.9 1530.5" fill="none" stroke="#231f20" stroke-width="1.38" />
<path d="M606.4 1537V1923.6M676.8 1537V1923.6M748.5 1537V1923.6" fill="none" stroke="#231f20" stroke-width="1.38" />
<path d="M606.4 1537L676.8 1923.6M676.8 1537L606.4 1923.6M676.8 1537L748.5 1923.6M748.5 1537L676.8 1923.6" fill="none" stroke="#231f20" stroke-width="1.38" />
<path d="M748.5 1742.7H759.5M748.5 1742.7L759 1923.6" fill="none" stroke="#231f20" stroke-width="1.25" />
<path d="M701.1 1549.5V1923.6" fill="none" stroke="#231f20" stroke-width="1.62" stroke-dasharray="21 7.5"/>
<path d="M701.1 1938V1947" fill="none" stroke="#231f20" stroke-width="1.50" />
<path d="M417.7 1611.6A23.6 23.6 0 0 1 464.9 1611.6M464.9 1611.6A23.6 23.6 0 0 1 512.1 1611.6M512.1 1611.6A23.6 23.6 0 0 1 559.3 1611.6M559.3 1611.6A23.6 23.6 0 0 1 606.5 1611.6M441.3 1899A23.6 24.6 0 0 0 488.5 1899M488.5 1899A23.6 24.6 0 0 0 535.7 1899M535.7 1899A23.6 24.6 0 0 0 582.9 1899M415.5 1923.6Q438 1921 441.3 1899M582.9 1899Q586 1921 606.4 1923.6M417.7 1611.6L441.3 1899M464.9 1611.6L441.3 1899M464.9 1611.6L488.5 1899M512.1 1611.6L488.5 1899M512.1 1611.6L535.7 1899M559.3 1611.6L535.7 1899M559.3 1611.6L582.9 1899M606.5 1611.6L582.9 1899" fill="none" stroke="#231f20" stroke-width="1.40" />
<path d="M415.5 1923.6H759.5V1379.3H789V1949.5H415.5" fill="none" stroke="#231f20" stroke-width="1.38" />
<path d="M415.5 1927.5H763V1381.5M786.3 1381.5V1946.4H415.5" fill="none" stroke="#231f20" stroke-width="1.12" />
<path d="M421.2 1936h0M421 1941.4h0M427.4 1944.3h0M430.9 1942.6h0M436.6 1938.1h0M439.4 1943.3h0M448.5 1933.7h0M448.4 1942.5h0M457.9 1933.7h0M456.4 1941.8h0M461.3 1938.2h0M463.8 1943.8h0M467 1932.5h0M473.6 1937.3h0M476.1 1944.5h0M485.8 1938.1h0M484 1943.4h0M490.8 1931.4h0M493.9 1942.3h0M495.9 1940.3h0M502.2 1934h0M502.2 1942.2h0M507.8 1942.3h0M517.5 1942.5h0M523 1933.8h0M522.9 1943.5h0M525.9 1939.5h0M532.3 1934.3h0M537.9 1941.4h0M544.7 1938h0M545.3 1944.5h0M558.2 1934.1h0M564.6 1932h0M564.3 1941.4h0M566.8 1932.9h0M567.4 1943.8h0M575.9 1934.2h0M573 1942.1h0M580.6 1944.5h0M585.3 1935.9h0M591.9 1940.3h0M598.4 1938.8h0M605.7 1938.1h0M604.8 1943.2h0M616.7 1944.5h0M621.6 1942.1h0M629.8 1933.1h0M628.6 1944.5h0M634.4 1935.2h0M632.8 1941.9h0M641 1935h0M641 1943.1h0M644.7 1934.1h0M643.4 1941.6h0M652.9 1936.7h0M652.2 1943.1h0M658.6 1931.3h0M655 1941.4h0M661.8 1936.5h0M663.5 1944.5h0M666.7 1932.5h0M667.6 1939.1h0M675.5 1935.1h0M674 1943.6h0M682.1 1943.2h0M686.1 1935.9h0M685 1942.7h0M694.1 1934.8h0M691.5 1939.1h0M697.4 1933.9h0M699 1942.7h0M705.8 1936.3h0M702.4 1938.3h0M708.2 1936.6h0M709.4 1944.3h0M719.9 1937.3h0M720.4 1940.2h0M727.7 1934.3h0M729.3 1943.4h0M732.5 1935.3h0M740.7 1939.1h0M744.9 1936.5h0M746.1 1944.1h0M752.8 1935.9h0M758.4 1933.4h0M758 1944.5h0M763.6 1935.7h0M765.3 1940.7h0M767.9 1936.7h0M769.9 1943.9h0M777.3 1943.5h0M782.4 1934.4h0M782.6 1941.9h0" stroke="#3a3637" stroke-width="2.2" stroke-linecap="round" fill="none"/>
<path d="M769.4 1392.2h0M769.2 1413h0M769.2 1418.4h0M768.5 1424.5h0M768.1 1439.8h0M769.5 1451.1h0M766.3 1456h0M770.3 1462.9h0M770.8 1469.7h0M768.5 1477.4h0M767 1486h0M769.8 1504.7h0M768.6 1511.2h0M770.9 1527.6h0M769.6 1531.2h0M769.5 1536.6h0M769.6 1545.3h0M768.7 1549.5h0M769.9 1558.7h0M768.3 1564.8h0M768.3 1572.3h0M768 1584.3h0M769.3 1589.8h0M768.8 1597.7h0M770.9 1605.4h0M768.6 1614.3h0M767.2 1620.1h0M767.9 1624.4h0M767.9 1630.9h0M772.6 1654.8h0M766.4 1658.1h0M771.8 1666.4h0M768.8 1672.3h0M769.1 1681.3h0M767 1684.7h0M769.2 1694.7h0M769.6 1700.2h0M767.5 1713.5h0M768.5 1721.2h0M767.4 1725.6h0M770.5 1733.2h0M770.9 1740.6h0M770.7 1748h0M769.1 1751.9h0M771.4 1759.7h0M772.2 1774.3h0M770.6 1779.6h0M769.7 1784.1h0M767.8 1795h0M770.5 1800.1h0M771.2 1812.4h0M768.2 1818.7h0M768.5 1824.2h0M769.6 1834.3h0M772.3 1839h0M770 1851.4h0M767.9 1858.4h0M772.4 1863.9h0M767.6 1871.6h0M768.9 1881.9h0M769.6 1884.8h0M770.8 1894.9h0M768.5 1901.7h0M768.9 1906.8h0M768.2 1914.2h0M772.5 1920.2h0M767.9 1927.8h0M775 1390.6h0M774.8 1396.6h0M773.8 1402.4h0M775.6 1413.6h0M774.5 1420h0M775.7 1422.9h0M776.6 1432h0M776.2 1438.8h0M774.6 1444.3h0M776.1 1453.1h0M777.3 1471.8h0M776.8 1486.7h0M777.7 1490.7h0M778.2 1503.6h0M772.7 1510.8h0M774 1537h0M776.7 1552.5h0M775.2 1565.1h0M777.3 1573.5h0M775.7 1578.5h0M776 1585h0M776 1591h0M776.5 1600.6h0M777.2 1606.4h0M776.1 1612.7h0M776.6 1617h0M773.1 1659.9h0M778.8 1668h0M777.2 1670h0M778.6 1678.9h0M776.2 1692.7h0M773.8 1697h0M778.8 1708.3h0M777.1 1711.8h0M778.6 1719.7h0M772.7 1724.5h0M777.7 1734.3h0M774.2 1738.7h0M778.9 1745.9h0M776.8 1758.7h0M774.4 1766.6h0M777.2 1780.7h0M776.2 1784.1h0M775.6 1791.2h0M777 1799.9h0M774.1 1805.5h0M775.8 1812.9h0M773.4 1819.1h0M774.4 1832.2h0M775.6 1838.8h0M774.5 1846.4h0M774.5 1853.9h0M778.1 1868.9h0M773.4 1872.8h0M778.2 1878.5h0M777.2 1893.7h0M777.2 1899.7h0M776.1 1906.4h0M776 1914.6h0M776.7 1921.1h0M775.8 1927.2h0M780.6 1390.4h0M782.7 1404.2h0M784.5 1409.6h0M781 1417.2h0M782.5 1422.5h0M779.7 1443h0M782.3 1451.5h0M783.4 1456.5h0M784.5 1467h0M781.5 1471h0M782.6 1485.3h0M781.8 1491.9h0M779.4 1499h0M783 1512.5h0M780.6 1518.5h0M780.9 1523h0M783 1532.2h0M783.2 1538.8h0M784.5 1544.6h0M779 1553.4h0M783.5 1561.1h0M784.4 1573.3h0M782.7 1579.6h0M783.6 1584.7h0M779.3 1590.2h0M779.6 1606h0M781.5 1617.2h0M784.5 1628h0M780.9 1633.1h0M783.3 1639.9h0M782.9 1646.9h0M784.1 1652h0M780.6 1670.3h0M782.5 1678.2h0M781.5 1685.9h0M784.5 1691.4h0M780.4 1701.4h0M783.4 1713.4h0M781.5 1717.3h0M779.2 1724.3h0M784.5 1733.5h0M782.7 1739h0M782 1743.7h0M783.2 1753.5h0M781.5 1757.9h0M783.2 1781.6h0M783.8 1786h0M782.3 1795.3h0M783.8 1800h0M782.7 1811.1h0M781.4 1826.9h0M783.7 1833.9h0M782.6 1839.1h0M784.5 1853.8h0M779.6 1860h0M781.8 1871.4h0M784 1879.7h0M779.7 1884.4h0M783.4 1894.2h0M779.6 1902.3h0M784.5 1904.8h0M781.6 1912h0M781.8 1917.8h0" stroke="#3a3637" stroke-width="2.2" stroke-linecap="round" fill="none"/>
<path d="M700.6 1335.5H759.9V1511H744.8V1495.4H720V1501H713.6V1511H700.6Z" fill="#ece7e5" stroke="none" stroke-width="0.00" />
<path d="M560 1501H688Q700.6 1501 700.6 1488V1511H560Z" fill="#e9e4e4" stroke="none" stroke-width="0.00" />
<path d="M759.9 1337V1511M744.8 1511V1495.4H720V1501H713.6V1511" fill="none" stroke="#231f20" stroke-width="1.50" />
<path d="M700.6 1362Q730 1353.5 759.9 1352.5M700.6 1397Q730 1386 759.9 1385M700.6 1430Q730 1417.5 759.9 1416.5M700.6 1464Q730 1450.5 759.9 1449.5M706.5 1508Q716 1486 759.9 1481.5" fill="none" stroke="#231f20" stroke-width="1.25" />
<path d="M710.1 1340V1490Q710 1505 703 1510.5" fill="none" stroke="#231f20" stroke-width="1.25" />
<path d="M415.5 1510.5L560 1501H687Q700.6 1501 700.6 1487V1339" fill="none" stroke="#231f20" stroke-width="3.00" />
<path d="M415.5 1510.8L560 1504.5V1511" fill="none" stroke="#231f20" stroke-width="1.12" />
<path d="M759 1335.3H699Q694.8 1335 694.6 1339L691.6 1409.5L681.9 1418.3" fill="none" stroke="#231f20" stroke-width="3.00" stroke-linejoin="round"/>
<path d="M700.2 1339V1403L691.6 1409.5" fill="none" stroke="#231f20" stroke-width="2.00" />
<path d="M668.6 1351.3L693.2 1360" fill="none" stroke="#231f20" stroke-width="2.40" />
<path d="M722 1321.5H733Q738.5 1322 737.3 1328Q736.3 1333 742 1334.5" fill="none" stroke="#231f20" stroke-width="3.20" />
<path d="M723.8 1336H735.7V1354H723.8Z" fill="#1a1718" stroke="none" stroke-width="0.00" />
<path d="M728 1341h0M730.5 1347h0" fill="none" stroke="#fff" stroke-width="2.00" stroke-linecap="round"/>
<path d="M722.5 1358.6V1368.4M725.2 1358.6V1368.4M727.9 1358.6V1368.4M730.6 1358.6V1368.4M733.3 1358.6V1368.4M736 1358.6V1368.4M738.7 1358.6V1368.4M741.4 1358.6V1368.4M744.1 1358.6V1368.4M746.8 1358.6V1368.4M749.5 1358.6V1368.4M752.2 1358.6V1368.4M754.9 1358.6V1368.4M757.6 1358.6V1368.4" fill="none" stroke="#231f20" stroke-width="1.75" />
<path d="M722 1359L716.5 1363.5L722 1368" fill="#231f20" stroke="#231f20" stroke-width="2.00" />
<path d="M720.8 1270.2H959.5V1277H720.8Z M720.8 1306.2H959.5V1312.5H720.8Z" fill="#ebe8e8" stroke="none" stroke-width="0.00" />
<path d="M720.8 1270.2H959.5M720.8 1277H959.5M720.8 1306.2H959.5M720.8 1312.5H959.5M720.8 1270.2V1312.5" fill="none" stroke="#231f20" stroke-width="1.62" />
<path d="M721 1277H735.5V1306.2H721Z" fill="#efebea" stroke="#231f20" stroke-width="1.38" />
<path d="M727 1278.5l6 3l-6 3.5l6 3.5l-6 3.5l6 3.5l-6 4l7 4" fill="none" stroke="#231f20" stroke-width="1.50" />
<path d="M715 1267H757M716.5 1268V1316M715 1315H744" fill="none" stroke="#5d5859" stroke-width="3.40" stroke-dasharray="1.3 1.3"/>
<path d="M760 1266.8L757.5 1262.6Q756.5 1261.3 754 1261.3H716Q709.7 1261.3 709.7 1267.5V1273.4L660.8 1344L660 1359.2L663.6 1360.6L665.4 1354L668.6 1351.3" fill="none" stroke="#231f20" stroke-width="1.62" />
<path d="M757 1266.5L755.5 1264.3H716.5Q712.8 1264.3 712.8 1268V1316Q713 1319 716 1319.3H744.5" fill="none" stroke="#231f20" stroke-width="1.50" />
<path d="M712.8 1274.6L664.6 1344.6L664.2 1352" fill="none" stroke="#231f20" stroke-width="1.38" />
<path d="M709.7 1273.4V1317Q710 1322.3 715 1322.3H740" fill="none" stroke="#231f20" stroke-width="1.50" />
<path d="M701.6 1288.5L676 1335.6L678.4 1344.4L664.6 1345.6M704.5 1290.5L679.3 1335.2L682 1345.5L670 1350.5" fill="none" stroke="#231f20" stroke-width="1.38" />
<path d="M712.8 1316H745L748 1313.3H767.3Q769 1315.5 767 1317.5H757Q751.5 1319 752.2 1324Q753 1329.5 759 1330.5L774.7 1331.8Q779 1331 780.3 1326.7L783.3 1327.2L779 1335.5" fill="none" stroke="#231f20" stroke-width="1.50" />
<path d="M744.4 1319.5L750.4 1333.3M740 1322.3L745 1334" fill="none" stroke="#231f20" stroke-width="1.38" />
<path d="M702.6 1288.7L708.6 1290.3M701.8 1292.1L707.8 1293.7M700.9 1295.6L706.9 1297.2M700 1299L706 1300.6M699.2 1302.5L705.2 1304M698.4 1305.9L704.4 1307.5M697.5 1309.3L703.5 1310.9M696.6 1312.8L702.6 1314.4M695.8 1316.2L701.8 1317.8" fill="none" stroke="#231f20" stroke-width="1.62" />
<path d="M702.8 1288.8L696 1316.3M708.4 1290.2L701.6 1317.7" fill="none" stroke="#231f20" stroke-width="1.12" />
<path d="M694.6 1320.5Q698 1316.8 702 1319.5Q700 1324 695 1323.3Z" fill="#fff" stroke="#231f20" stroke-width="1.38" />
<path d="M782.5 1327H959.5M761.3 1335.7H959.5" fill="none" stroke="#231f20" stroke-width="1.50" />
<path d="M761.3 1335.7V1378.1M764.7 1335.7V1377H959.5" fill="none" stroke="#231f20" stroke-width="1.50" />
<path d="M759.9 1381.2H787.7Q792 1382 792.6 1386.5L793.7 1390.5H959.5" fill="none" stroke="#231f20" stroke-width="1.50" />
<path d="M764.7 1355.5Q771 1356.5 771 1363.3Q771 1370 764.7 1371" fill="#fff" stroke="#231f20" stroke-width="1.38" />
<path d="M794.9 1428H959.5V1463H794.9Z" fill="#cfc5bf" stroke="none" stroke-width="0.00" />
<path d="M796 1433H959.5V1458H796Z" fill="#c6bbb4" stroke="none" stroke-width="0.00" />
<path d="M959.5 1428H794.9V1463H959.5M796 1432.6H959.5M796 1458.4H959.5" fill="none" stroke="#3b3435" stroke-width="1.88" />
<path d="M892.3 1426.3H921.5V1433H892.3ZM892.3 1458H921.5V1465H892.3Z" fill="#cfc6c1" stroke="#4a4344" stroke-width="1.38" />
<path d="M789 1949.5H959.5" fill="none" stroke="#231f20" stroke-width="1.38" />

</g>
<path d="M959.5 1244V1603.2l-4.2 1.8l8.8 10.1l-4.6 0.5V1975" fill="none" stroke="#3d393a" stroke-width="1.44" /><path d="M1007.1 1244V1603.2l-4.2 1.8l8.8 10.1l-4.6 0.5V1975" fill="none" stroke="#3d393a" stroke-width="1.44" />
<path d="M415.5 1484.8V1724.5l-4.2 1.8l8.8 10.1l-4.6 0.5V1975" fill="none" stroke="#3d393a" stroke-width="1.44" /><path d="M1551.1 1484.8V1724.5l-4.2 1.8l8.8 10.1l-4.6 0.5V1975" fill="none" stroke="#3d393a" stroke-width="1.44" />
<text x="494.6" y="117.2" font-size="37" font-weight="normal" fill="#1c1819" text-anchor="start" >Drywall Return</text>
<text x="494.6" y="162.6" font-size="37" font-weight="normal" fill="#1c1819" text-anchor="start" >Condensation</text>
<text x="494.6" y="208" font-size="37" font-weight="normal" fill="#1c1819" text-anchor="start" >Channel</text>
<text x="116.3" y="367.1" font-size="37" font-weight="bold" fill="#0616dc" text-anchor="start" >Sash</text>
<path d="M116 375.0H205" fill="none" stroke="#0616dc" stroke-width="2.12" />
<text x="65.6" y="437.6" font-size="37" font-weight="bold" fill="#0616dc" text-anchor="start" >Frame Gasket</text>
<path d="M65 445.9H322" fill="none" stroke="#0616dc" stroke-width="2.12" />
<text x="65.6" y="482.9" font-size="37" font-weight="bold" fill="#0616dc" text-anchor="start" >Weatherstrip</text>
<path d="M65 491.3H292" fill="none" stroke="#0616dc" stroke-width="2.12" />
<text x="112" y="557.6" font-size="37" font-weight="normal" fill="#1c1819" text-anchor="start" >Frame</text>
<path d="M216 360.2H501.6M312 421.6H560M244.4 548.6H601" fill="none" stroke="#111" stroke-width="1.90" />
<text x="1478" y="102.8" font-size="37" font-weight="bold" fill="#0616dc" text-anchor="start" >Water Deflector</text>
<path d="M1477 110.8H1753" fill="none" stroke="#0616dc" stroke-width="2.12" />
<path d="M1066 91.8L1479.6 93.4" fill="none" stroke="#111" stroke-width="1.90" />
<text x="1483.9" y="536.3" font-size="38" font-weight="bold" fill="#231f20" text-anchor="start" textLength="72" lengthAdjust="spacingAndGlyphs" stroke="#231f20" stroke-width="1.1" stroke-linejoin="round">Head</text>
<text x="683" y="1121" font-size="38" font-weight="bold" fill="#231f20" text-anchor="start" textLength="44" lengthAdjust="spacingAndGlyphs" stroke="#231f20" stroke-width="1.1" stroke-linejoin="round">Sill</text>
<text x="137.1" y="1330.5" font-size="37" font-weight="bold" fill="#0616dc" text-anchor="start" >Frame Gasket</text>
<path d="M136.5 1338.9H394" fill="none" stroke="#0616dc" stroke-width="2.12" />
<text x="137.1" y="1375.9" font-size="37" font-weight="bold" fill="#0616dc" text-anchor="start" >Weatherstrip</text>
<path d="M136.5 1384.2H364.5" fill="none" stroke="#0616dc" stroke-width="2.12" />
<path d="M368.2 1347.1H731" fill="none" stroke="#111" stroke-width="1.90" />
<text x="1459.9" y="1171.6" font-size="37" font-weight="bold" fill="#0616dc" text-anchor="start" >Sash</text>
<path d="M1459.5 1179.8H1547" fill="none" stroke="#0616dc" stroke-width="2.12" />
<path d="M1459.9 1179L1274.2 1300.1" fill="none" stroke="#111" stroke-width="1.90" />
<text x="1468.9" y="1280.4" font-size="37" font-weight="normal" fill="#1c1819" text-anchor="start" >Drywall Return</text>
<text x="1468.9" y="1326.3" font-size="37" font-weight="normal" fill="#1c1819" text-anchor="start" >Condensation</text>
<text x="1468.9" y="1372.2" font-size="37" font-weight="normal" fill="#1c1819" text-anchor="start" >Channel</text>
<path d="M1468.9 1342.8H1199.5M1462.5 1444.2H1251.2" fill="none" stroke="#111" stroke-width="1.90" />
<text x="1462.5" y="1452.2" font-size="37" font-weight="normal" fill="#1c1819" text-anchor="start" >Frame</text>
<text x="466.9" y="2005.5" font-size="38" font-weight="bold" fill="#231f20" text-anchor="start" textLength="70.5" lengthAdjust="spacingAndGlyphs" stroke="#231f20" stroke-width="1.1" stroke-linejoin="round">Jamb</text>
<text x="1423.6" y="2003.4" font-size="38" font-weight="bold" fill="#231f20" text-anchor="start" textLength="70.9" lengthAdjust="spacingAndGlyphs" stroke="#231f20" stroke-width="1.1" stroke-linejoin="round">Jamb</text>
<path d="M701.1 1961V2127M747.9 1962V2059.5M1218.7 1962V2059.5M1265.5 1961V2127" fill="none" stroke="#231f20" stroke-width="1.50" />
<path d="M701.1 2040.1H1265.5M701.1 2105.5H1265.5" fill="none" stroke="#231f20" stroke-width="1.50" />
<circle cx="701.1" cy="2040.1" r="4.6" fill="#231f20"/>
<circle cx="747.9" cy="2040.1" r="4.6" fill="#231f20"/>
<circle cx="1218.7" cy="2040.1" r="4.6" fill="#231f20"/>
<circle cx="1265.5" cy="2040.1" r="4.6" fill="#231f20"/>
<circle cx="701.1" cy="2105.5" r="4.6" fill="#231f20"/>
<circle cx="1265.5" cy="2105.5" r="4.6" fill="#231f20"/>
<text x="843.2" y="2022.6" font-size="38.5" font-weight="normal" fill="#1c1819" text-anchor="start" textLength="288" lengthAdjust="spacingAndGlyphs" >Rough Opening Width</text>
<text x="844.5" y="2089.8" font-size="38.5" font-weight="normal" fill="#1c1819" text-anchor="start" textLength="288" lengthAdjust="spacingAndGlyphs" >Unit Dimension Width</text>
<text x="568.6" y="2055" font-size="35" font-weight="normal" fill="#1c1819" text-anchor="start" textLength="122.8" lengthAdjust="spacingAndGlyphs" >1" (25.4)</text>
<text x="1284.8" y="2055.2" font-size="35" font-weight="normal" fill="#1c1819" text-anchor="start" textLength="122.8" lengthAdjust="spacingAndGlyphs" >1" (25.4)</text>
</svg></body></html>
